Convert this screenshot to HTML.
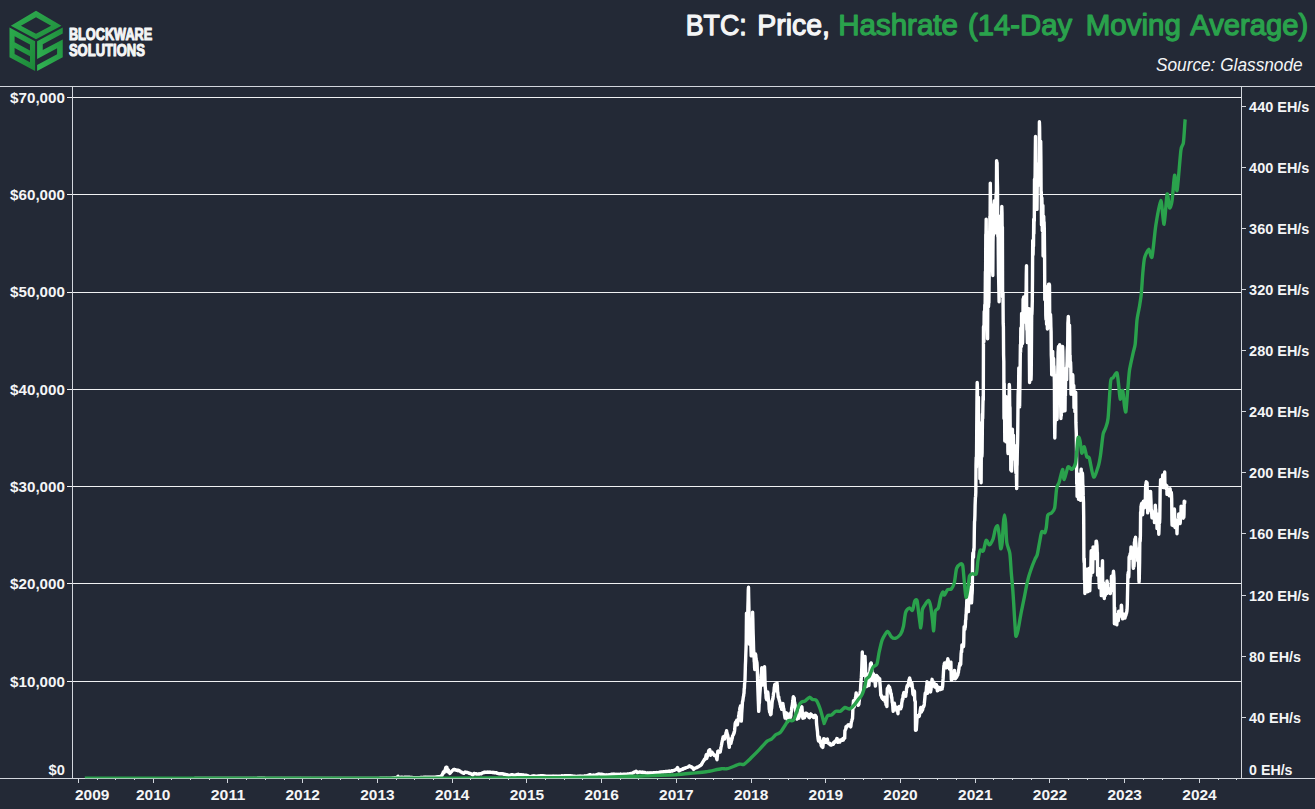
<!DOCTYPE html>
<html><head><meta charset="utf-8"><title>BTC: Price, Hashrate (14-Day Moving Average)</title>
<style>html,body{margin:0;padding:0;background:#232936;}body{width:1315px;height:809px;overflow:hidden;font-family:"Liberation Sans",sans-serif;}</style>
</head><body>
<svg width="1315" height="809" viewBox="0 0 1315 809" style="display:block;font-family:'Liberation Sans',sans-serif">
<rect width="1315" height="809" fill="#232936"/>
<defs><clipPath id="plot"><rect x="73" y="87" width="1168" height="691"/></clipPath><linearGradient id="gTop" x1="0" y1="0" x2="1" y2="1"><stop offset="0" stop-color="#2fae50"/><stop offset="1" stop-color="#1f8c3c"/></linearGradient><linearGradient id="gL" x1="0" y1="0" x2="1" y2="1"><stop offset="0" stop-color="#2cab4d"/><stop offset="1" stop-color="#1c8638"/></linearGradient><linearGradient id="gR" x1="0" y1="1" x2="1" y2="0"><stop offset="0" stop-color="#32b554"/><stop offset="1" stop-color="#1f8f3d"/></linearGradient></defs>
<line x1="67.0" x2="1241.5" y1="681.50" y2="681.50" stroke="#f0f1f3" stroke-width="1" shape-rendering="crispEdges"/>
<line x1="67.0" x2="1241.5" y1="583.50" y2="583.50" stroke="#f0f1f3" stroke-width="1" shape-rendering="crispEdges"/>
<line x1="67.0" x2="1241.5" y1="486.50" y2="486.50" stroke="#f0f1f3" stroke-width="1" shape-rendering="crispEdges"/>
<line x1="67.0" x2="1241.5" y1="389.50" y2="389.50" stroke="#f0f1f3" stroke-width="1" shape-rendering="crispEdges"/>
<line x1="67.0" x2="1241.5" y1="292.50" y2="292.50" stroke="#f0f1f3" stroke-width="1" shape-rendering="crispEdges"/>
<line x1="67.0" x2="1241.5" y1="194.50" y2="194.50" stroke="#f0f1f3" stroke-width="1" shape-rendering="crispEdges"/>
<line x1="67.0" x2="1241.5" y1="97.50" y2="97.50" stroke="#f0f1f3" stroke-width="1" shape-rendering="crispEdges"/>
<line x1="0" x2="1315" y1="86.5" y2="86.5" stroke="#d2d6dd" stroke-width="1" shape-rendering="crispEdges"/>
<line x1="72.5" x2="72.5" y1="86.5" y2="778.5" stroke="#d2d6dd" stroke-width="1" shape-rendering="crispEdges"/>
<line x1="1241.5" x2="1241.5" y1="86.5" y2="778.5" stroke="#d2d6dd" stroke-width="1" shape-rendering="crispEdges"/>
<g clip-path="url(#plot)" fill="none" stroke-linejoin="round" stroke-linecap="butt">
<path d="M194.3,778.5 L194.5,778.5 L194.7,778.5 L194.9,778.5 L195.1,778.5 L195.3,778.5 L195.5,778.5 L195.7,778.5 L195.9,778.5 L196.1,778.5 L196.3,778.5 L196.5,778.5 L196.7,778.5 L196.9,778.5 L197.1,778.5 L197.3,778.5 L197.5,778.5 L197.7,778.5 L198.0,778.5 L198.2,778.5 L198.4,778.5 L198.6,778.5 L198.8,778.5 L199.0,778.5 L199.2,778.5 L199.4,778.5 L199.6,778.5 L199.8,778.5 L200.0,778.5 L200.2,778.5 L200.4,778.5 L200.6,778.5 L200.8,778.5 L201.0,778.5 L201.2,778.5 L201.4,778.5 L201.6,778.5 L201.8,778.5 L202.0,778.5 L202.3,778.5 L202.5,778.5 L202.7,778.5 L202.9,778.5 L203.1,778.5 L203.3,778.5 L203.5,778.5 L203.7,778.5 L203.9,778.5 L204.1,778.5 L204.3,778.5 L204.5,778.5 L204.7,778.5 L204.9,778.5 L205.1,778.5 L205.3,778.5 L205.5,778.5 L205.7,778.5 L205.9,778.5 L206.1,778.5 L206.3,778.5 L206.6,778.5 L206.8,778.5 L207.0,778.5 L207.2,778.5 L207.4,778.5 L207.6,778.5 L207.8,778.5 L208.0,778.5 L208.2,778.5 L208.4,778.5 L208.6,778.5 L208.8,778.5 L209.0,778.5 L209.2,778.5 L209.4,778.5 L209.6,778.5 L209.8,778.5 L210.0,778.5 L210.2,778.5 L210.4,778.5 L210.6,778.5 L210.9,778.5 L211.1,778.5 L211.3,778.5 L211.5,778.5 L211.7,778.5 L211.9,778.5 L212.1,778.5 L212.3,778.5 L212.5,778.5 L212.7,778.5 L212.9,778.5 L213.1,778.5 L213.3,778.5 L213.5,778.5 L213.7,778.5 L213.9,778.5 L214.1,778.5 L214.3,778.5 L214.5,778.5 L214.7,778.5 L214.9,778.5 L215.2,778.5 L215.4,778.5 L215.6,778.5 L215.8,778.5 L216.0,778.5 L216.2,778.5 L216.4,778.5 L216.6,778.5 L216.8,778.5 L217.0,778.5 L217.2,778.5 L217.4,778.5 L217.6,778.5 L217.8,778.5 L218.0,778.5 L218.2,778.5 L218.4,778.5 L218.6,778.5 L218.8,778.5 L219.0,778.5 L219.2,778.5 L219.5,778.5 L219.7,778.5 L219.9,778.5 L220.1,778.5 L220.3,778.5 L220.5,778.5 L220.7,778.5 L220.9,778.5 L221.1,778.5 L221.3,778.5 L221.5,778.5 L221.7,778.5 L221.9,778.5 L222.1,778.5 L222.3,778.5 L222.5,778.5 L222.7,778.5 L222.9,778.5 L223.1,778.5 L223.3,778.5 L223.5,778.5 L223.8,778.5 L224.0,778.5 L224.2,778.5 L224.4,778.5 L224.6,778.5 L224.8,778.5 L225.0,778.5 L225.2,778.5 L225.4,778.5 L225.6,778.5 L225.8,778.5 L226.0,778.5 L226.2,778.5 L226.4,778.5 L226.6,778.5 L226.8,778.5 L227.0,778.5 L227.2,778.5 L227.4,778.5 L227.6,778.5 L227.8,778.5 L228.1,778.5 L228.3,778.5 L228.5,778.5 L228.7,778.5 L228.9,778.5 L229.1,778.5 L229.3,778.5 L229.5,778.5 L229.7,778.5 L229.9,778.5 L230.1,778.5 L230.3,778.5 L230.5,778.5 L230.7,778.5 L230.9,778.5 L231.1,778.5 L231.3,778.5 L231.5,778.5 L231.7,778.5 L231.9,778.5 L232.1,778.5 L232.4,778.5 L232.6,778.5 L232.8,778.5 L233.0,778.5 L233.2,778.5 L233.4,778.5 L233.6,778.5 L233.8,778.5 L234.0,778.5 L234.2,778.5 L234.4,778.5 L234.6,778.5 L234.8,778.5 L235.0,778.5 L235.2,778.5 L235.4,778.5 L235.6,778.5 L235.8,778.5 L236.0,778.5 L236.2,778.5 L236.4,778.5 L236.6,778.5 L236.9,778.5 L237.1,778.5 L237.3,778.5 L237.5,778.5 L237.7,778.5 L237.9,778.5 L238.1,778.5 L238.3,778.5 L238.5,778.5 L238.7,778.5 L238.9,778.5 L239.1,778.5 L239.3,778.5 L239.5,778.5 L239.7,778.5 L239.9,778.5 L240.1,778.5 L240.3,778.5 L240.5,778.5 L240.7,778.5 L240.9,778.5 L241.2,778.5 L241.4,778.5 L241.6,778.5 L241.8,778.5 L242.0,778.5 L242.2,778.5 L242.4,778.5 L242.6,778.5 L242.8,778.5 L243.0,778.5 L243.2,778.5 L243.4,778.5 L243.6,778.5 L243.8,778.5 L244.0,778.5 L244.2,778.5 L244.4,778.5 L244.6,778.5 L244.8,778.5 L245.0,778.5 L245.2,778.5 L245.5,778.5 L245.7,778.5 L245.9,778.5 L246.1,778.5 L246.3,778.5 L246.5,778.5 L246.7,778.5 L246.9,778.5 L247.1,778.5 L247.3,778.5 L247.5,778.5 L247.7,778.5 L247.9,778.5 L248.1,778.5 L248.3,778.5 L248.5,778.5 L248.7,778.5 L248.9,778.5 L249.1,778.5 L249.3,778.5 L249.5,778.5 L249.8,778.5 L250.0,778.5 L250.2,778.5 L250.4,778.5 L250.6,778.5 L250.8,778.5 L251.0,778.5 L251.2,778.5 L251.4,778.5 L251.6,778.5 L251.8,778.5 L252.0,778.5 L252.2,778.5 L252.4,778.5 L252.6,778.5 L252.8,778.5 L253.0,778.5 L253.2,778.5 L253.4,778.5 L253.6,778.4 L253.8,778.4 L254.1,778.4 L254.3,778.4 L254.5,778.4 L254.7,778.4 L254.9,778.4 L255.1,778.4 L255.3,778.4 L255.5,778.4 L255.7,778.4 L255.9,778.4 L256.1,778.4 L256.3,778.4 L256.5,778.4 L256.7,778.4 L256.9,778.4 L257.1,778.4 L257.3,778.4 L257.5,778.3 L257.7,778.3 L257.9,778.3 L258.1,778.3 L258.4,778.3 L258.6,778.3 L258.8,778.3 L259.0,778.3 L259.2,778.3 L259.4,778.3 L259.6,778.3 L259.8,778.3 L260.0,778.2 L260.2,778.2 L260.4,778.2 L260.6,778.2 L260.8,778.2 L261.0,778.2 L261.2,778.3 L261.4,778.3 L261.6,778.3 L261.8,778.3 L262.0,778.3 L262.2,778.3 L262.4,778.3 L262.7,778.3 L262.9,778.3 L263.1,778.3 L263.3,778.3 L263.5,778.3 L263.7,778.3 L263.9,778.3 L264.1,778.3 L264.3,778.3 L264.5,778.3 L264.7,778.3 L264.9,778.4 L265.1,778.4 L265.3,778.4 L265.5,778.4 L265.7,778.4 L265.9,778.4 L266.1,778.4 L266.3,778.4 L266.5,778.4 L266.7,778.4 L267.0,778.4 L267.2,778.4 L267.4,778.4 L267.6,778.4 L267.8,778.4 L268.0,778.4 L268.2,778.4 L268.4,778.4 L268.6,778.4 L268.8,778.4 L269.0,778.4 L269.2,778.4 L269.4,778.4 L269.6,778.4 L269.8,778.4 L270.0,778.4 L270.2,778.4 L270.4,778.4 L270.6,778.4 L270.8,778.4 L271.0,778.4 L271.3,778.4 L271.5,778.4 L271.7,778.4 L271.9,778.4 L272.1,778.4 L272.3,778.4 L272.5,778.4 L272.7,778.4 L272.9,778.4 L273.1,778.4 L273.3,778.4 L273.5,778.4 L273.7,778.4 L273.9,778.4 L274.1,778.4 L274.3,778.4 L274.5,778.4 L274.7,778.4 L274.9,778.4 L275.1,778.4 L275.3,778.4 L275.6,778.4 L275.8,778.4 L276.0,778.4 L276.2,778.4 L276.4,778.4 L276.6,778.4 L276.8,778.4 L277.0,778.4 L277.2,778.4 L277.4,778.4 L277.6,778.4 L277.8,778.4 L278.0,778.4 L278.2,778.4 L278.4,778.4 L278.6,778.4 L278.8,778.4 L279.0,778.4 L279.2,778.4 L279.4,778.4 L279.6,778.4 L279.8,778.4 L280.1,778.4 L280.3,778.4 L280.5,778.4 L280.7,778.4 L280.9,778.4 L281.1,778.4 L281.3,778.5 L281.5,778.5 L281.7,778.5 L281.9,778.5 L282.1,778.5 L282.3,778.5 L282.5,778.5 L282.7,778.5 L282.9,778.5 L283.1,778.5 L283.3,778.5 L283.5,778.5 L283.7,778.5 L283.9,778.5 L284.1,778.5 L284.4,778.5 L284.6,778.5 L284.8,778.5 L285.0,778.5 L285.2,778.5 L285.4,778.5 L285.6,778.5 L285.8,778.5 L286.0,778.5 L286.2,778.5 L286.4,778.5 L286.6,778.5 L286.8,778.5 L287.0,778.5 L287.2,778.5 L287.4,778.5 L287.6,778.5 L287.8,778.5 L288.0,778.5 L288.2,778.5 L288.4,778.5 L288.7,778.5 L288.9,778.5 L289.1,778.5 L289.3,778.5 L289.5,778.5 L289.7,778.5 L289.9,778.5 L290.1,778.5 L290.3,778.5 L290.5,778.5 L290.7,778.5 L290.9,778.5 L291.1,778.5 L291.3,778.5 L291.5,778.5 L291.7,778.5 L291.9,778.5 L292.1,778.5 L292.3,778.5 L292.5,778.5 L292.7,778.5 L293.0,778.5 L293.2,778.5 L293.4,778.5 L293.6,778.5 L293.8,778.5 L294.0,778.5 L294.2,778.5 L294.4,778.5 L294.6,778.5 L294.8,778.5 L295.0,778.5 L295.2,778.5 L295.4,778.5 L295.6,778.5 L295.8,778.5 L296.0,778.5 L296.2,778.5 L296.4,778.5 L296.6,778.5 L296.8,778.5 L297.0,778.5 L297.3,778.5 L297.5,778.5 L297.7,778.5 L297.9,778.5 L298.1,778.5 L298.3,778.5 L298.5,778.5 L298.7,778.5 L298.9,778.5 L299.1,778.5 L299.3,778.5 L299.5,778.5 L299.7,778.5 L299.9,778.5 L300.1,778.5 L300.3,778.5 L300.5,778.5 L300.7,778.4 L300.9,778.4 L301.1,778.4 L301.3,778.4 L301.5,778.4 L301.8,778.4 L302.0,778.4 L302.2,778.4 L302.4,778.4 L302.6,778.4 L302.8,778.4 L303.0,778.4 L303.2,778.4 L303.4,778.4 L303.6,778.4 L303.8,778.4 L304.0,778.4 L304.2,778.4 L304.4,778.4 L304.6,778.4 L304.8,778.4 L305.0,778.4 L305.2,778.4 L305.4,778.4 L305.6,778.4 L305.8,778.4 L306.0,778.4 L306.3,778.4 L306.5,778.4 L306.7,778.4 L306.9,778.4 L307.1,778.4 L307.3,778.4 L307.5,778.4 L307.7,778.4 L307.9,778.4 L308.1,778.4 L308.3,778.4 L308.5,778.4 L308.7,778.4 L308.9,778.4 L309.1,778.4 L309.3,778.4 L309.5,778.4 L309.7,778.4 L309.9,778.4 L310.1,778.4 L310.3,778.5 L310.5,778.5 L310.7,778.5 L310.9,778.5 L311.2,778.5 L311.4,778.5 L311.6,778.5 L311.8,778.5 L312.0,778.5 L312.2,778.5 L312.4,778.5 L312.6,778.5 L312.8,778.5 L313.0,778.5 L313.2,778.5 L313.4,778.5 L313.6,778.5 L313.8,778.5 L314.0,778.5 L314.2,778.5 L314.4,778.5 L314.6,778.5 L314.8,778.5 L315.0,778.5 L315.2,778.5 L315.4,778.5 L315.6,778.5 L315.8,778.5 L316.1,778.5 L316.3,778.5 L316.5,778.5 L316.7,778.5 L316.9,778.5 L317.1,778.5 L317.3,778.5 L317.5,778.5 L317.7,778.5 L317.9,778.5 L318.1,778.5 L318.3,778.5 L318.5,778.5 L318.7,778.5 L318.9,778.5 L319.1,778.5 L319.3,778.5 L319.5,778.5 L319.7,778.5 L319.9,778.5 L320.1,778.5 L320.3,778.5 L320.5,778.5 L320.7,778.5 L321.0,778.5 L321.2,778.5 L321.4,778.5 L321.6,778.5 L321.8,778.5 L322.0,778.5 L322.2,778.5 L322.4,778.5 L322.6,778.5 L322.8,778.5 L323.0,778.5 L323.2,778.5 L323.4,778.5 L323.6,778.5 L323.8,778.5 L324.0,778.5 L324.2,778.5 L324.4,778.5 L324.6,778.5 L324.8,778.5 L325.0,778.5 L325.2,778.5 L325.4,778.5 L325.6,778.5 L325.9,778.5 L326.1,778.5 L326.3,778.5 L326.5,778.5 L326.7,778.5 L326.9,778.5 L327.1,778.5 L327.3,778.5 L327.5,778.5 L327.7,778.5 L327.9,778.5 L328.1,778.5 L328.3,778.5 L328.5,778.5 L328.7,778.5 L328.9,778.5 L329.1,778.5 L329.3,778.5 L329.5,778.5 L329.7,778.5 L329.9,778.5 L330.1,778.5 L330.3,778.5 L330.6,778.5 L330.8,778.5 L331.0,778.5 L331.2,778.5 L331.4,778.5 L331.6,778.5 L331.8,778.4 L332.0,778.4 L332.2,778.4 L332.4,778.4 L332.6,778.4 L332.8,778.4 L333.0,778.4 L333.2,778.4 L333.4,778.4 L333.6,778.4 L333.8,778.4 L334.0,778.4 L334.2,778.4 L334.4,778.4 L334.6,778.4 L334.8,778.4 L335.0,778.4 L335.2,778.4 L335.5,778.4 L335.7,778.4 L335.9,778.4 L336.1,778.4 L336.3,778.4 L336.5,778.4 L336.7,778.4 L336.9,778.4 L337.1,778.4 L337.3,778.4 L337.5,778.4 L337.7,778.4 L337.9,778.4 L338.1,778.4 L338.3,778.4 L338.5,778.4 L338.7,778.4 L338.9,778.4 L339.1,778.4 L339.3,778.4 L339.5,778.4 L339.7,778.4 L339.9,778.4 L340.1,778.4 L340.4,778.4 L340.6,778.4 L340.8,778.4 L341.0,778.4 L341.2,778.4 L341.4,778.4 L341.6,778.4 L341.8,778.4 L342.0,778.4 L342.2,778.4 L342.4,778.4 L342.6,778.4 L342.8,778.4 L343.0,778.4 L343.2,778.4 L343.4,778.4 L343.6,778.4 L343.8,778.4 L344.0,778.4 L344.2,778.4 L344.4,778.4 L344.6,778.4 L344.8,778.4 L345.0,778.4 L345.3,778.4 L345.5,778.4 L345.7,778.4 L345.9,778.4 L346.1,778.4 L346.3,778.4 L346.5,778.4 L346.7,778.4 L346.9,778.4 L347.1,778.4 L347.3,778.4 L347.5,778.4 L347.7,778.4 L347.9,778.4 L348.1,778.4 L348.3,778.4 L348.5,778.4 L348.7,778.4 L348.9,778.4 L349.1,778.4 L349.3,778.4 L349.5,778.4 L349.7,778.4 L349.9,778.4 L350.2,778.4 L350.4,778.4 L350.6,778.4 L350.8,778.4 L351.0,778.4 L351.2,778.4 L351.4,778.4 L351.6,778.4 L351.8,778.4 L352.0,778.4 L352.2,778.4 L352.4,778.4 L352.6,778.4 L352.8,778.4 L353.0,778.4 L353.2,778.4 L353.4,778.4 L353.6,778.4 L353.8,778.4 L354.0,778.4 L354.2,778.4 L354.4,778.4 L354.6,778.4 L354.8,778.4 L355.1,778.4 L355.3,778.4 L355.5,778.4 L355.7,778.4 L355.9,778.4 L356.1,778.4 L356.3,778.4 L356.5,778.4 L356.7,778.4 L356.9,778.4 L357.1,778.4 L357.3,778.4 L357.5,778.4 L357.7,778.4 L357.9,778.4 L358.1,778.4 L358.3,778.4 L358.5,778.4 L358.7,778.4 L358.9,778.4 L359.1,778.4 L359.3,778.4 L359.5,778.4 L359.7,778.4 L360.0,778.4 L360.2,778.4 L360.4,778.4 L360.6,778.4 L360.8,778.4 L361.0,778.4 L361.2,778.4 L361.4,778.4 L361.6,778.4 L361.8,778.4 L362.0,778.4 L362.2,778.4 L362.4,778.4 L362.6,778.4 L362.8,778.4 L363.0,778.4 L363.2,778.4 L363.4,778.4 L363.6,778.4 L363.8,778.4 L364.0,778.4 L364.2,778.4 L364.4,778.4 L364.6,778.4 L364.9,778.4 L365.1,778.4 L365.3,778.4 L365.5,778.4 L365.7,778.4 L365.9,778.4 L366.1,778.4 L366.3,778.4 L366.5,778.4 L366.7,778.4 L366.9,778.4 L367.1,778.4 L367.3,778.4 L367.5,778.4 L367.7,778.4 L367.9,778.4 L368.1,778.4 L368.3,778.4 L368.5,778.4 L368.7,778.4 L368.9,778.4 L369.1,778.4 L369.3,778.4 L369.5,778.4 L369.8,778.4 L370.0,778.4 L370.2,778.4 L370.4,778.4 L370.6,778.4 L370.8,778.4 L371.0,778.4 L371.2,778.4 L371.4,778.4 L371.6,778.4 L371.8,778.4 L372.0,778.4 L372.2,778.4 L372.4,778.4 L372.6,778.4 L372.8,778.4 L373.0,778.4 L373.2,778.4 L373.4,778.4 L373.6,778.4 L373.8,778.4 L374.0,778.4 L374.2,778.4 L374.4,778.4 L374.7,778.4 L374.9,778.4 L375.1,778.4 L375.3,778.4 L375.5,778.4 L375.7,778.4 L375.9,778.4 L376.1,778.4 L376.3,778.4 L376.5,778.4 L376.7,778.4 L376.9,778.4 L377.1,778.4 L377.3,778.4 L377.5,778.4 L377.7,778.4 L377.9,778.4 L378.1,778.4 L378.3,778.4 L378.5,778.4 L378.7,778.4 L378.9,778.4 L379.1,778.4 L379.4,778.4 L379.6,778.4 L379.8,778.3 L380.0,778.3 L380.2,778.3 L380.4,778.3 L380.6,778.3 L380.8,778.3 L381.0,778.3 L381.2,778.3 L381.4,778.3 L381.6,778.3 L381.8,778.3 L382.0,778.3 L382.2,778.3 L382.4,778.3 L382.6,778.3 L382.8,778.3 L383.0,778.3 L383.2,778.3 L383.4,778.3 L383.7,778.3 L383.9,778.3 L384.1,778.3 L384.3,778.3 L384.5,778.3 L384.7,778.3 L384.9,778.3 L385.1,778.3 L385.3,778.3 L385.5,778.3 L385.7,778.3 L385.9,778.3 L386.1,778.3 L386.3,778.3 L386.5,778.3 L386.7,778.3 L386.9,778.2 L387.1,778.2 L387.3,778.2 L387.5,778.2 L387.7,778.2 L388.0,778.2 L388.2,778.2 L388.4,778.2 L388.6,778.2 L388.8,778.2 L389.0,778.2 L389.2,778.2 L389.4,778.2 L389.6,778.2 L389.8,778.2 L390.0,778.2 L390.2,778.2 L390.4,778.1 L390.6,778.1 L390.8,778.1 L391.0,778.1 L391.2,778.1 L391.4,778.1 L391.6,778.1 L391.8,778.1 L392.0,778.0 L392.3,778.0 L392.5,778.0 L392.7,778.0 L392.9,778.0 L393.1,778.0 L393.3,778.0 L393.5,777.9 L393.7,777.9 L393.9,777.9 L394.1,777.9 L394.3,777.8 L394.5,777.8 L394.7,777.8 L394.9,777.8 L395.1,777.7 L395.3,777.7 L395.5,777.7 L395.7,777.6 L395.9,777.6 L396.1,777.6 L396.3,777.5 L396.6,777.4 L396.8,777.2 L397.0,777.1 L397.2,776.9 L397.4,776.8 L397.6,776.6 L397.8,776.4 L398.0,776.3 L398.2,776.7 L398.4,777.1 L398.6,777.5 L398.8,777.6 L399.0,777.7 L399.2,777.8 L399.4,777.8 L399.6,777.8 L399.8,777.7 L400.0,777.6 L400.2,777.5 L400.4,777.5 L400.6,777.4 L400.9,777.3 L401.1,777.2 L401.3,777.1 L401.5,777.2 L401.7,777.2 L401.9,777.2 L402.1,777.3 L402.3,777.3 L402.5,777.4 L402.7,777.4 L402.9,777.4 L403.1,777.4 L403.3,777.4 L403.5,777.4 L403.7,777.4 L403.9,777.4 L404.1,777.4 L404.3,777.3 L404.5,777.3 L404.7,777.3 L404.9,777.3 L405.2,777.4 L405.4,777.3 L405.6,777.3 L405.8,777.3 L406.0,777.3 L406.2,777.3 L406.4,777.3 L406.6,777.3 L406.8,777.3 L407.0,777.3 L407.2,777.3 L407.4,777.3 L407.6,777.3 L407.8,777.3 L408.0,777.3 L408.2,777.3 L408.4,777.3 L408.6,777.3 L408.8,777.3 L409.0,777.3 L409.2,777.3 L409.4,777.3 L409.7,777.3 L409.9,777.3 L410.1,777.4 L410.3,777.4 L410.5,777.4 L410.7,777.4 L410.9,777.4 L411.1,777.4 L411.3,777.5 L411.5,777.5 L411.7,777.5 L411.9,777.5 L412.1,777.5 L412.3,777.5 L412.5,777.6 L412.7,777.6 L412.9,777.6 L413.1,777.6 L413.3,777.7 L413.5,777.7 L413.7,777.6 L414.0,777.7 L414.2,777.7 L414.4,777.7 L414.6,777.7 L414.8,777.8 L415.0,777.8 L415.2,777.8 L415.4,777.8 L415.6,777.8 L415.8,777.8 L416.0,777.8 L416.2,777.8 L416.4,777.8 L416.6,777.8 L416.8,777.8 L417.0,777.8 L417.2,777.8 L417.4,777.7 L417.6,777.7 L417.8,777.7 L418.0,777.7 L418.3,777.7 L418.5,777.7 L418.7,777.7 L418.9,777.6 L419.1,777.6 L419.3,777.6 L419.5,777.6 L419.7,777.6 L419.9,777.6 L420.1,777.6 L420.3,777.5 L420.5,777.5 L420.7,777.5 L420.9,777.5 L421.1,777.5 L421.3,777.5 L421.5,777.5 L421.7,777.4 L421.9,777.4 L422.1,777.4 L422.3,777.4 L422.6,777.4 L422.8,777.4 L423.0,777.4 L423.2,777.4 L423.4,777.4 L423.6,777.3 L423.8,777.3 L424.0,777.3 L424.2,777.3 L424.4,777.3 L424.6,777.3 L424.8,777.3 L425.0,777.3 L425.2,777.3 L425.4,777.3 L425.6,777.3 L425.8,777.2 L426.0,777.2 L426.2,777.2 L426.4,777.2 L426.6,777.2 L426.9,777.2 L427.1,777.2 L427.3,777.2 L427.5,777.1 L427.7,777.1 L427.9,777.1 L428.1,777.1 L428.3,777.1 L428.5,777.1 L428.7,777.1 L428.9,777.2 L429.1,777.2 L429.3,777.1 L429.5,777.2 L429.7,777.2 L429.9,777.2 L430.1,777.2 L430.3,777.2 L430.5,777.2 L430.7,777.2 L430.9,777.2 L431.2,777.2 L431.4,777.2 L431.6,777.2 L431.8,777.2 L432.0,777.2 L432.2,777.2 L432.4,777.2 L432.6,777.2 L432.8,777.2 L433.0,777.2 L433.2,777.2 L433.4,777.2 L433.6,777.2 L433.8,777.2 L434.0,777.2 L434.2,777.2 L434.4,777.2 L434.6,777.2 L434.8,777.1 L435.0,777.1 L435.2,777.1 L435.5,777.1 L435.7,777.1 L435.9,777.0 L436.1,777.0 L436.3,777.0 L436.5,777.0 L436.7,776.9 L436.9,776.9 L437.1,776.9 L437.3,776.9 L437.5,776.9 L437.7,776.8 L437.9,776.8 L438.1,776.8 L438.3,776.8 L438.5,776.7 L438.7,776.7 L438.9,776.7 L439.1,776.6 L439.3,776.6 L439.5,776.6 L439.8,776.6 L440.0,776.6 L440.2,776.5 L440.4,776.4 L440.6,776.2 L440.8,776.1 L441.0,776.0 L441.2,775.9 L441.4,775.7 L441.6,775.6 L441.8,775.4 L442.0,775.3 L442.2,774.8 L442.4,774.3 L442.6,773.8 L442.8,773.4 L443.0,773.0 L443.2,772.6 L443.4,772.1 L443.6,771.7 L443.8,772.1 L444.1,772.7 L444.3,772.1 L444.5,771.5 L444.7,770.9 L444.9,770.4 L445.1,769.8 L445.3,769.4 L445.5,768.7 L445.7,768.2 L445.9,767.5 L446.1,767.3 L446.3,767.4 L446.5,767.5 L446.7,767.2 L446.9,767.3 L447.1,768.7 L447.3,770.4 L447.5,771.7 L447.7,770.9 L447.9,770.3 L448.1,769.7 L448.4,770.1 L448.6,770.8 L448.8,771.1 L449.0,771.6 L449.2,772.0 L449.4,772.5 L449.6,772.9 L449.8,773.4 L450.0,773.3 L450.2,773.1 L450.4,772.9 L450.6,772.6 L450.8,772.4 L451.0,772.1 L451.2,771.9 L451.4,771.7 L451.6,771.5 L451.8,771.3 L452.0,771.1 L452.2,770.7 L452.4,770.5 L452.7,770.4 L452.9,770.2 L453.1,769.9 L453.3,769.8 L453.5,769.5 L453.7,769.4 L453.9,769.4 L454.1,769.5 L454.3,769.5 L454.5,769.7 L454.7,769.5 L454.9,769.7 L455.1,769.9 L455.3,769.7 L455.5,769.9 L455.7,769.8 L455.9,770.0 L456.1,770.0 L456.3,770.1 L456.5,770.1 L456.7,770.2 L456.9,770.2 L457.2,770.3 L457.4,770.2 L457.6,770.3 L457.8,770.3 L458.0,770.6 L458.2,770.3 L458.4,770.4 L458.6,770.6 L458.8,770.5 L459.0,770.5 L459.2,770.6 L459.4,770.7 L459.6,771.1 L459.8,771.0 L460.0,771.3 L460.2,771.2 L460.4,771.6 L460.6,771.7 L460.8,771.9 L461.0,772.0 L461.2,772.1 L461.5,772.1 L461.7,772.2 L461.9,772.3 L462.1,772.4 L462.3,772.6 L462.5,772.8 L462.7,772.8 L462.9,772.9 L463.1,773.0 L463.3,773.0 L463.5,773.1 L463.7,773.3 L463.9,773.3 L464.1,773.1 L464.3,772.9 L464.5,772.6 L464.7,772.4 L464.9,772.2 L465.1,772.0 L465.3,772.1 L465.5,772.2 L465.8,772.1 L466.0,772.2 L466.2,772.2 L466.4,772.4 L466.6,772.4 L466.8,772.4 L467.0,772.5 L467.2,772.5 L467.4,772.5 L467.6,772.5 L467.8,772.6 L468.0,772.7 L468.2,772.8 L468.4,772.8 L468.6,772.9 L468.8,772.9 L469.0,773.0 L469.2,773.2 L469.4,773.1 L469.6,773.2 L469.8,773.3 L470.1,773.5 L470.3,773.5 L470.5,773.5 L470.7,773.7 L470.9,773.8 L471.1,773.8 L471.3,773.9 L471.5,774.1 L471.7,774.2 L471.9,774.3 L472.1,774.5 L472.3,774.6 L472.5,774.7 L472.7,774.8 L472.9,774.9 L473.1,774.6 L473.3,774.4 L473.5,773.9 L473.7,773.7 L473.9,773.4 L474.1,773.5 L474.4,773.5 L474.6,773.5 L474.8,773.6 L475.0,773.7 L475.2,773.8 L475.4,773.7 L475.6,773.7 L475.8,773.8 L476.0,773.8 L476.2,773.9 L476.4,773.9 L476.6,774.1 L476.8,774.0 L477.0,774.1 L477.2,774.1 L477.4,774.1 L477.6,774.1 L477.8,774.1 L478.0,774.0 L478.2,774.0 L478.4,774.1 L478.7,773.9 L478.9,773.9 L479.1,774.0 L479.3,774.0 L479.5,773.9 L479.7,773.9 L479.9,773.8 L480.1,773.9 L480.3,773.9 L480.5,773.8 L480.7,773.8 L480.9,773.7 L481.1,773.7 L481.3,773.7 L481.5,773.5 L481.7,773.4 L481.9,773.3 L482.1,773.1 L482.3,773.0 L482.5,772.9 L482.7,772.8 L483.0,772.8 L483.2,772.6 L483.4,772.5 L483.6,772.4 L483.8,772.4 L484.0,772.3 L484.2,772.4 L484.4,772.3 L484.6,772.3 L484.8,772.4 L485.0,772.2 L485.2,772.1 L485.4,772.2 L485.6,772.2 L485.8,772.2 L486.0,772.3 L486.2,772.2 L486.4,772.1 L486.6,772.2 L486.8,772.1 L487.0,772.1 L487.3,772.1 L487.5,772.3 L487.7,772.1 L487.9,772.2 L488.1,772.3 L488.3,772.3 L488.5,772.3 L488.7,772.3 L488.9,772.2 L489.1,772.3 L489.3,772.3 L489.5,772.2 L489.7,772.3 L489.9,772.3 L490.1,772.3 L490.3,772.4 L490.5,772.3 L490.7,772.2 L490.9,772.3 L491.1,772.4 L491.3,772.4 L491.6,772.4 L491.8,772.4 L492.0,772.4 L492.2,772.5 L492.4,772.6 L492.6,772.4 L492.8,772.5 L493.0,772.5 L493.2,772.5 L493.4,772.4 L493.6,772.5 L493.8,772.6 L494.0,772.6 L494.2,772.5 L494.4,772.7 L494.6,772.6 L494.8,772.6 L495.0,772.6 L495.2,772.7 L495.4,772.8 L495.6,772.8 L495.9,772.7 L496.1,772.8 L496.3,772.8 L496.5,772.8 L496.7,773.0 L496.9,773.0 L497.1,773.1 L497.3,773.3 L497.5,773.3 L497.7,773.3 L497.9,773.4 L498.1,773.5 L498.3,773.5 L498.5,773.6 L498.7,773.6 L498.9,773.7 L499.1,773.8 L499.3,773.8 L499.5,773.9 L499.7,773.9 L499.9,773.9 L500.1,773.8 L500.4,773.9 L500.6,773.9 L500.8,773.8 L501.0,773.9 L501.2,773.8 L501.4,773.9 L501.6,773.8 L501.8,773.9 L502.0,773.9 L502.2,773.8 L502.4,773.8 L502.6,773.9 L502.8,773.9 L503.0,773.9 L503.2,773.9 L503.4,774.1 L503.6,774.0 L503.8,774.0 L504.0,774.2 L504.2,774.2 L504.4,774.1 L504.7,774.3 L504.9,774.3 L505.1,774.4 L505.3,774.4 L505.5,774.4 L505.7,774.5 L505.9,774.5 L506.1,774.6 L506.3,774.6 L506.5,774.7 L506.7,774.7 L506.9,774.8 L507.1,774.8 L507.3,774.8 L507.5,775.0 L507.7,775.0 L507.9,775.1 L508.1,775.1 L508.3,775.1 L508.5,775.2 L508.7,775.2 L509.0,775.2 L509.2,775.4 L509.4,775.4 L509.6,775.3 L509.8,775.3 L510.0,775.1 L510.2,775.1 L510.4,775.0 L510.6,774.9 L510.8,774.9 L511.0,774.8 L511.2,774.7 L511.4,774.7 L511.6,774.7 L511.8,774.7 L512.0,774.8 L512.2,774.8 L512.4,774.9 L512.6,774.9 L512.8,774.8 L513.0,775.0 L513.3,775.0 L513.5,775.0 L513.7,775.1 L513.9,775.2 L514.1,775.2 L514.3,775.2 L514.5,775.2 L514.7,775.3 L514.9,775.3 L515.1,775.2 L515.3,775.2 L515.5,775.0 L515.7,775.0 L515.9,774.9 L516.1,774.9 L516.3,774.8 L516.5,774.6 L516.7,774.6 L516.9,774.5 L517.1,774.4 L517.3,774.4 L517.6,774.5 L517.8,774.5 L518.0,774.5 L518.2,774.6 L518.4,774.5 L518.6,774.6 L518.8,774.5 L519.0,774.7 L519.2,774.6 L519.4,774.6 L519.6,774.6 L519.8,774.7 L520.0,774.7 L520.2,774.7 L520.4,774.8 L520.6,774.7 L520.8,774.8 L521.0,774.8 L521.2,774.8 L521.4,774.8 L521.6,774.9 L521.9,774.9 L522.1,774.9 L522.3,775.0 L522.5,775.0 L522.7,774.9 L522.9,775.0 L523.1,774.9 L523.3,775.1 L523.5,775.1 L523.7,775.0 L523.9,775.1 L524.1,775.1 L524.3,775.1 L524.5,775.1 L524.7,775.1 L524.9,775.1 L525.1,775.2 L525.3,775.2 L525.5,775.3 L525.7,775.3 L525.9,775.3 L526.2,775.3 L526.4,775.3 L526.6,775.4 L526.8,775.4 L527.0,775.4 L527.2,775.4 L527.4,775.5 L527.6,775.6 L527.8,775.7 L528.0,775.8 L528.2,775.9 L528.4,776.0 L528.6,776.1 L528.8,776.2 L529.0,776.3 L529.2,776.4 L529.4,776.5 L529.6,776.6 L529.8,776.7 L530.0,776.7 L530.2,776.7 L530.5,776.6 L530.7,776.5 L530.9,776.5 L531.1,776.4 L531.3,776.3 L531.5,776.2 L531.7,776.1 L531.9,776.1 L532.1,776.1 L532.3,775.9 L532.5,775.9 L532.7,775.9 L532.9,775.9 L533.1,775.9 L533.3,775.9 L533.5,776.0 L533.7,775.9 L533.9,776.0 L534.1,776.0 L534.3,776.0 L534.5,776.1 L534.8,776.1 L535.0,776.0 L535.2,776.1 L535.4,776.1 L535.6,776.1 L535.8,776.2 L536.0,776.2 L536.2,776.2 L536.4,776.2 L536.6,776.2 L536.8,776.2 L537.0,776.2 L537.2,776.1 L537.4,776.1 L537.6,776.1 L537.8,776.0 L538.0,776.0 L538.2,776.0 L538.4,776.0 L538.6,776.0 L538.8,776.0 L539.1,776.0 L539.3,775.9 L539.5,775.9 L539.7,775.9 L539.9,775.9 L540.1,775.8 L540.3,775.8 L540.5,775.8 L540.7,775.8 L540.9,775.8 L541.1,775.7 L541.3,775.7 L541.5,775.7 L541.7,775.7 L541.9,775.7 L542.1,775.8 L542.3,775.7 L542.5,775.8 L542.7,775.8 L542.9,775.8 L543.1,775.9 L543.3,775.8 L543.6,775.9 L543.8,775.9 L544.0,775.9 L544.2,776.0 L544.4,776.0 L544.6,776.0 L544.8,776.1 L545.0,776.0 L545.2,776.0 L545.4,776.1 L545.6,776.1 L545.8,776.1 L546.0,776.1 L546.2,776.1 L546.4,776.1 L546.6,776.2 L546.8,776.1 L547.0,776.1 L547.2,776.2 L547.4,776.2 L547.6,776.2 L547.9,776.1 L548.1,776.1 L548.3,776.2 L548.5,776.2 L548.7,776.2 L548.9,776.1 L549.1,776.1 L549.3,776.2 L549.5,776.2 L549.7,776.2 L549.9,776.2 L550.1,776.2 L550.3,776.2 L550.5,776.2 L550.7,776.2 L550.9,776.2 L551.1,776.2 L551.3,776.2 L551.5,776.2 L551.7,776.2 L551.9,776.2 L552.2,776.2 L552.4,776.2 L552.6,776.2 L552.8,776.3 L553.0,776.2 L553.2,776.2 L553.4,776.2 L553.6,776.3 L553.8,776.3 L554.0,776.3 L554.2,776.2 L554.4,776.3 L554.6,776.3 L554.8,776.3 L555.0,776.3 L555.2,776.3 L555.4,776.3 L555.6,776.3 L555.8,776.3 L556.0,776.2 L556.2,776.3 L556.5,776.3 L556.7,776.3 L556.9,776.3 L557.1,776.3 L557.3,776.3 L557.5,776.3 L557.7,776.3 L557.9,776.3 L558.1,776.3 L558.3,776.3 L558.5,776.3 L558.7,776.3 L558.9,776.3 L559.1,776.3 L559.3,776.3 L559.5,776.2 L559.7,776.2 L559.9,776.2 L560.1,776.2 L560.3,776.1 L560.5,776.1 L560.8,776.1 L561.0,776.1 L561.2,776.0 L561.4,776.1 L561.6,776.0 L561.8,776.1 L562.0,776.0 L562.2,776.0 L562.4,776.0 L562.6,775.9 L562.8,776.0 L563.0,775.9 L563.2,775.9 L563.4,775.9 L563.6,775.9 L563.8,775.9 L564.0,775.9 L564.2,775.8 L564.4,775.8 L564.6,775.7 L564.8,775.8 L565.1,775.8 L565.3,775.8 L565.5,775.8 L565.7,775.7 L565.9,775.7 L566.1,775.7 L566.3,775.7 L566.5,775.7 L566.7,775.7 L566.9,775.7 L567.1,775.8 L567.3,775.7 L567.5,775.7 L567.7,775.7 L567.9,775.7 L568.1,775.7 L568.3,775.7 L568.5,775.8 L568.7,775.8 L568.9,775.8 L569.1,775.7 L569.4,775.7 L569.6,775.8 L569.8,775.8 L570.0,775.8 L570.2,775.7 L570.4,775.7 L570.6,775.8 L570.8,775.8 L571.0,775.8 L571.2,775.9 L571.4,775.9 L571.6,775.9 L571.8,775.9 L572.0,776.0 L572.2,776.0 L572.4,775.9 L572.6,776.1 L572.8,776.1 L573.0,776.1 L573.2,776.1 L573.4,776.1 L573.7,776.1 L573.9,776.3 L574.1,776.2 L574.3,776.3 L574.5,776.3 L574.7,776.4 L574.9,776.4 L575.1,776.4 L575.3,776.4 L575.5,776.5 L575.7,776.4 L575.9,776.4 L576.1,776.5 L576.3,776.4 L576.5,776.4 L576.7,776.4 L576.9,776.4 L577.1,776.4 L577.3,776.4 L577.5,776.4 L577.7,776.3 L578.0,776.4 L578.2,776.3 L578.4,776.3 L578.6,776.3 L578.8,776.3 L579.0,776.3 L579.2,776.3 L579.4,776.3 L579.6,776.2 L579.8,776.3 L580.0,776.3 L580.2,776.3 L580.4,776.2 L580.6,776.2 L580.8,776.3 L581.0,776.2 L581.2,776.2 L581.4,776.2 L581.6,776.2 L581.8,776.2 L582.0,776.2 L582.3,776.2 L582.5,776.2 L582.7,776.1 L582.9,776.2 L583.1,776.2 L583.3,776.1 L583.5,776.1 L583.7,776.1 L583.9,776.1 L584.1,776.1 L584.3,776.1 L584.5,776.0 L584.7,776.1 L584.9,776.0 L585.1,776.1 L585.3,776.0 L585.5,776.0 L585.7,776.0 L585.9,776.0 L586.1,776.0 L586.3,775.9 L586.5,775.9 L586.8,775.8 L587.0,775.7 L587.2,775.6 L587.4,775.5 L587.6,775.5 L587.8,775.5 L588.0,775.4 L588.2,775.3 L588.4,775.2 L588.6,775.2 L588.8,775.1 L589.0,775.1 L589.2,774.9 L589.4,774.8 L589.6,774.8 L589.8,774.7 L590.0,774.7 L590.2,774.6 L590.4,774.7 L590.6,774.9 L590.8,775.0 L591.1,775.1 L591.3,775.2 L591.5,775.4 L591.7,775.5 L591.9,775.5 L592.1,775.5 L592.3,775.4 L592.5,775.4 L592.7,775.3 L592.9,775.4 L593.1,775.3 L593.3,775.3 L593.5,775.2 L593.7,775.3 L593.9,775.2 L594.1,775.2 L594.3,775.1 L594.5,775.1 L594.7,775.1 L594.9,775.1 L595.1,775.1 L595.4,775.0 L595.6,775.0 L595.8,775.0 L596.0,774.9 L596.2,774.9 L596.4,774.8 L596.6,774.8 L596.8,774.7 L597.0,774.5 L597.2,774.5 L597.4,774.4 L597.6,774.3 L597.8,774.3 L598.0,774.2 L598.2,774.1 L598.4,774.1 L598.6,774.0 L598.8,774.0 L599.0,774.0 L599.2,774.0 L599.4,774.1 L599.7,774.1 L599.9,774.1 L600.1,774.1 L600.3,774.2 L600.5,774.1 L600.7,774.2 L600.9,774.2 L601.1,774.2 L601.3,774.3 L601.5,774.3 L601.7,774.3 L601.9,774.3 L602.1,774.3 L602.3,774.4 L602.5,774.5 L602.7,774.5 L602.9,774.5 L603.1,774.5 L603.3,774.6 L603.5,774.6 L603.7,774.8 L603.9,774.8 L604.2,774.8 L604.4,774.9 L604.6,774.9 L604.8,774.9 L605.0,775.0 L605.2,775.0 L605.4,775.0 L605.6,775.0 L605.8,775.0 L606.0,775.0 L606.2,775.0 L606.4,775.0 L606.6,774.9 L606.8,775.0 L607.0,774.9 L607.2,774.9 L607.4,774.9 L607.6,774.9 L607.8,774.9 L608.0,774.9 L608.2,774.9 L608.4,774.9 L608.6,774.9 L608.8,774.8 L609.1,774.8 L609.3,774.8 L609.5,774.7 L609.7,774.7 L609.9,774.7 L610.1,774.6 L610.3,774.6 L610.5,774.5 L610.7,774.5 L610.9,774.5 L611.1,774.4 L611.3,774.4 L611.5,774.3 L611.7,774.3 L611.9,774.3 L612.1,774.3 L612.3,774.2 L612.5,774.2 L612.7,774.2 L612.9,774.2 L613.1,774.3 L613.3,774.3 L613.5,774.2 L613.7,774.4 L614.0,774.3 L614.2,774.3 L614.4,774.3 L614.6,774.4 L614.8,774.4 L615.0,774.3 L615.2,774.4 L615.4,774.4 L615.6,774.4 L615.8,774.4 L616.0,774.5 L616.2,774.4 L616.4,774.4 L616.6,774.5 L616.8,774.4 L617.0,774.5 L617.2,774.5 L617.4,774.4 L617.6,774.4 L617.8,774.4 L618.0,774.5 L618.2,774.4 L618.4,774.4 L618.6,774.5 L618.9,774.5 L619.1,774.4 L619.3,774.4 L619.5,774.5 L619.7,774.4 L619.9,774.4 L620.1,774.4 L620.3,774.3 L620.5,774.4 L620.7,774.3 L620.9,774.4 L621.1,774.3 L621.3,774.5 L621.5,774.4 L621.7,774.4 L621.9,774.4 L622.1,774.4 L622.3,774.4 L622.5,774.4 L622.7,774.4 L622.9,774.3 L623.1,774.3 L623.3,774.3 L623.5,774.3 L623.8,774.3 L624.0,774.3 L624.2,774.3 L624.4,774.3 L624.6,774.3 L624.8,774.2 L625.0,774.2 L625.2,774.2 L625.4,774.1 L625.6,774.2 L625.8,774.2 L626.0,774.1 L626.2,774.2 L626.4,774.2 L626.6,774.1 L626.8,774.1 L627.0,774.1 L627.2,774.1 L627.4,774.0 L627.6,774.0 L627.8,773.9 L628.0,773.9 L628.2,773.9 L628.4,773.9 L628.7,773.9 L628.9,773.9 L629.1,773.8 L629.3,773.7 L629.5,773.7 L629.7,773.8 L629.9,773.7 L630.1,773.7 L630.3,773.7 L630.5,773.6 L630.7,773.5 L630.9,773.5 L631.1,773.5 L631.3,773.5 L631.5,773.4 L631.7,773.4 L631.9,773.4 L632.1,773.4 L632.3,773.3 L632.5,773.2 L632.7,773.1 L632.9,773.0 L633.1,772.9 L633.3,772.6 L633.6,772.7 L633.8,772.4 L634.0,772.4 L634.2,772.2 L634.4,772.1 L634.6,772.1 L634.8,771.8 L635.0,771.8 L635.2,771.8 L635.4,771.5 L635.6,771.4 L635.8,771.3 L636.0,771.1 L636.2,771.1 L636.4,771.4 L636.6,771.6 L636.8,771.8 L637.0,772.2 L637.2,772.3 L637.4,772.7 L637.6,772.6 L637.8,772.6 L638.0,772.4 L638.2,772.4 L638.5,772.3 L638.7,772.3 L638.9,772.1 L639.1,772.1 L639.3,771.9 L639.5,771.9 L639.7,772.0 L639.9,772.0 L640.1,772.0 L640.3,772.0 L640.5,772.1 L640.7,772.1 L640.9,772.2 L641.1,772.3 L641.3,772.2 L641.5,772.2 L641.7,772.2 L641.9,772.2 L642.1,772.4 L642.3,772.3 L642.5,772.3 L642.7,772.4 L642.9,772.3 L643.2,772.4 L643.4,772.4 L643.6,772.5 L643.8,772.4 L644.0,772.5 L644.2,772.4 L644.4,772.5 L644.6,772.6 L644.8,772.6 L645.0,772.5 L645.2,772.6 L645.4,772.6 L645.6,772.6 L645.8,773.1 L646.0,773.1 L646.2,773.1 L646.4,773.1 L646.6,773.1 L646.8,773.1 L647.0,773.1 L647.2,773.0 L647.4,773.2 L647.6,773.0 L647.8,773.1 L648.1,773.2 L648.3,773.0 L648.5,773.0 L648.7,773.0 L648.9,773.1 L649.1,773.0 L649.3,772.9 L649.5,773.1 L649.7,773.2 L649.9,773.0 L650.1,773.1 L650.3,773.0 L650.5,773.0 L650.7,773.0 L650.9,773.0 L651.1,772.9 L651.3,773.0 L651.5,772.9 L651.7,772.9 L651.9,772.9 L652.1,772.9 L652.3,772.9 L652.5,772.9 L652.7,772.9 L653.0,772.8 L653.2,772.9 L653.4,772.9 L653.6,772.7 L653.8,772.8 L654.0,772.9 L654.2,772.7 L654.4,772.7 L654.6,772.8 L654.8,772.9 L655.0,772.8 L655.2,772.7 L655.4,772.7 L655.6,772.6 L655.8,772.7 L656.0,772.7 L656.2,772.7 L656.4,772.6 L656.6,772.7 L656.8,772.6 L657.0,772.8 L657.2,772.6 L657.4,772.6 L657.6,772.6 L657.9,772.6 L658.1,772.6 L658.3,772.6 L658.5,772.5 L658.7,772.5 L658.9,772.4 L659.1,772.5 L659.3,772.5 L659.5,772.5 L659.7,772.2 L659.9,772.3 L660.1,772.3 L660.3,772.4 L660.5,772.1 L660.7,772.2 L660.9,772.1 L661.1,772.1 L661.3,772.1 L661.5,772.0 L661.7,772.1 L661.9,772.0 L662.1,772.0 L662.3,772.0 L662.5,771.9 L662.8,771.9 L663.0,771.8 L663.2,772.0 L663.4,771.8 L663.6,771.8 L663.8,771.8 L664.0,771.8 L664.2,771.7 L664.4,771.7 L664.6,771.7 L664.8,771.7 L665.0,771.6 L665.2,771.6 L665.4,771.8 L665.6,771.6 L665.8,771.7 L666.0,771.6 L666.2,771.5 L666.4,771.5 L666.6,771.5 L666.8,771.5 L667.0,771.5 L667.2,771.5 L667.4,771.5 L667.7,771.4 L667.9,771.3 L668.1,771.2 L668.3,771.3 L668.5,771.4 L668.7,771.4 L668.9,771.4 L669.1,771.3 L669.3,771.1 L669.5,771.2 L669.7,771.4 L669.9,771.3 L670.1,771.3 L670.3,771.2 L670.5,771.2 L670.7,771.1 L670.9,771.0 L671.1,770.9 L671.3,771.0 L671.5,771.0 L671.7,770.7 L671.9,770.8 L672.1,770.8 L672.3,770.9 L672.6,770.8 L672.8,770.9 L673.0,770.6 L673.2,770.5 L673.4,770.4 L673.6,770.4 L673.8,770.4 L674.0,770.4 L674.2,770.2 L674.4,770.3 L674.6,770.2 L674.8,770.1 L675.0,770.0 L675.2,769.9 L675.4,769.8 L675.6,769.6 L675.8,769.5 L676.0,769.5 L676.2,769.4 L676.4,769.2 L676.6,769.1 L676.8,768.8 L677.0,768.3 L677.2,767.9 L677.5,767.5 L677.7,768.0 L677.9,768.3 L678.1,768.8 L678.3,769.5 L678.5,769.9 L678.7,770.4 L678.9,770.9 L679.1,770.7 L679.3,770.7 L679.5,770.5 L679.7,770.5 L679.9,770.4 L680.1,770.1 L680.3,769.9 L680.5,769.9 L680.7,769.8 L680.9,769.7 L681.1,769.6 L681.3,769.6 L681.5,769.7 L681.8,769.3 L682.0,769.3 L682.2,769.3 L682.4,769.3 L682.6,769.0 L682.8,769.2 L683.0,768.8 L683.2,768.9 L683.4,768.8 L683.6,768.6 L683.8,768.7 L684.0,768.6 L684.2,768.5 L684.4,768.4 L684.6,768.3 L684.8,768.3 L685.0,768.0 L685.2,768.2 L685.4,768.1 L685.6,767.8 L685.8,767.9 L686.1,767.8 L686.3,767.6 L686.5,767.6 L686.7,767.6 L686.9,767.4 L687.1,767.4 L687.3,767.2 L687.5,767.3 L687.7,767.1 L687.9,766.9 L688.1,766.9 L688.3,766.8 L688.5,766.6 L688.7,766.4 L688.9,766.2 L689.1,766.0 L689.3,766.0 L689.5,766.2 L689.7,766.1 L689.9,766.3 L690.1,766.4 L690.4,766.8 L690.6,766.7 L690.8,766.9 L691.0,767.0 L691.2,766.9 L691.4,767.1 L691.6,767.0 L691.8,767.0 L692.0,767.1 L692.2,767.3 L692.4,767.7 L692.6,767.8 L692.8,768.1 L693.0,768.6 L693.2,768.7 L693.4,769.2 L693.6,769.4 L693.8,769.1 L694.0,769.0 L694.2,768.7 L694.4,768.6 L694.7,768.6 L694.9,768.4 L695.1,768.3 L695.3,768.0 L695.5,767.9 L695.7,767.9 L695.9,767.9 L696.1,767.7 L696.3,767.7 L696.5,767.6 L696.7,767.6 L696.9,767.2 L697.1,767.2 L697.3,767.3 L697.5,767.4 L697.7,767.1 L697.9,767.1 L698.1,767.0 L698.3,766.9 L698.5,766.7 L698.7,766.6 L699.0,766.3 L699.2,766.2 L699.4,766.1 L699.6,766.1 L699.8,765.9 L700.0,765.6 L700.2,765.7 L700.4,765.4 L700.6,765.4 L700.8,765.3 L701.0,764.9 L701.2,764.8 L701.4,764.7 L701.6,764.3 L701.8,763.8 L702.0,763.8 L702.2,763.2 L702.4,762.8 L702.6,762.3 L702.8,762.3 L703.0,761.7 L703.3,761.4 L703.5,761.1 L703.7,760.6 L703.9,760.3 L704.1,760.1 L704.3,759.5 L704.5,759.7 L704.7,759.5 L704.9,759.2 L705.1,759.0 L705.3,758.6 L705.5,757.8 L705.7,757.5 L705.9,756.2 L706.1,755.4 L706.3,754.7 L706.5,756.3 L706.7,758.6 L706.9,757.9 L707.1,756.8 L707.3,756.7 L707.6,755.9 L707.8,755.2 L708.0,754.7 L708.2,753.5 L708.4,752.6 L708.6,751.1 L708.8,750.6 L709.0,750.3 L709.2,750.6 L709.4,749.9 L709.6,749.8 L709.8,749.8 L710.0,751.2 L710.2,752.5 L710.4,753.9 L710.6,755.2 L710.8,754.6 L711.0,754.4 L711.2,753.3 L711.4,752.4 L711.6,752.0 L711.9,752.1 L712.1,752.6 L712.3,753.0 L712.5,753.1 L712.7,753.1 L712.9,753.5 L713.1,754.0 L713.3,754.0 L713.5,754.4 L713.7,754.5 L713.9,754.9 L714.1,755.0 L714.3,755.4 L714.5,755.1 L714.7,755.0 L714.9,755.6 L715.1,755.4 L715.3,755.3 L715.5,755.6 L715.7,755.6 L715.9,756.4 L716.2,756.5 L716.4,757.5 L716.6,758.1 L716.8,759.2 L717.0,759.7 L717.2,757.3 L717.4,755.9 L717.6,753.5 L717.8,751.3 L718.0,751.2 L718.2,751.1 L718.4,751.7 L718.6,751.7 L718.8,751.5 L719.0,752.3 L719.2,751.5 L719.4,751.6 L719.6,752.0 L719.8,751.8 L720.0,751.9 L720.2,752.0 L720.4,750.7 L720.7,749.3 L720.9,747.7 L721.1,746.9 L721.3,746.0 L721.5,744.8 L721.7,744.1 L721.9,742.5 L722.1,742.1 L722.3,740.7 L722.5,739.9 L722.7,738.9 L722.9,738.3 L723.1,737.0 L723.3,737.3 L723.5,736.7 L723.7,736.6 L723.9,737.3 L724.1,737.5 L724.3,738.7 L724.5,739.1 L724.7,738.0 L725.0,737.2 L725.2,736.9 L725.4,735.7 L725.6,735.0 L725.8,734.2 L726.0,732.7 L726.2,732.8 L726.4,732.2 L726.6,730.8 L726.8,732.4 L727.0,732.8 L727.2,733.9 L727.4,734.4 L727.6,735.1 L727.8,735.7 L728.0,737.2 L728.2,738.8 L728.4,740.4 L728.6,742.6 L728.8,743.7 L729.0,745.3 L729.3,747.4 L729.5,744.9 L729.7,744.0 L729.9,740.8 L730.1,739.1 L730.3,739.6 L730.5,740.9 L730.7,742.9 L730.9,743.5 L731.1,742.7 L731.3,741.6 L731.5,740.7 L731.7,740.4 L731.9,739.6 L732.1,737.9 L732.3,738.0 L732.5,736.2 L732.7,735.8 L732.9,735.3 L733.1,734.7 L733.3,735.0 L733.6,734.2 L733.8,733.1 L734.0,733.6 L734.2,731.8 L734.4,732.0 L734.6,730.5 L734.8,728.5 L735.0,725.6 L735.2,723.5 L735.4,722.9 L735.6,722.3 L735.8,722.5 L736.0,722.0 L736.2,721.6 L736.4,721.3 L736.6,721.6 L736.8,720.1 L737.0,721.1 L737.2,723.1 L737.4,724.8 L737.6,723.2 L737.9,722.1 L738.1,720.1 L738.3,718.8 L738.5,717.4 L738.7,715.1 L738.9,715.1 L739.1,712.8 L739.3,711.7 L739.5,711.6 L739.7,710.2 L739.9,707.8 L740.1,708.7 L740.3,707.0 L740.5,706.0 L740.7,710.2 L740.9,712.8 L741.1,717.9 L741.3,721.1 L741.5,718.3 L741.7,713.3 L741.9,710.3 L742.2,706.5 L742.4,702.6 L742.6,700.9 L742.8,701.0 L743.0,699.5 L743.2,697.9 L743.4,696.5 L743.6,696.1 L743.8,693.9 L744.0,693.4 L744.2,688.7 L744.4,688.2 L744.6,683.3 L744.8,682.2 L745.0,679.8 L745.2,672.5 L745.4,665.0 L745.6,660.8 L745.8,654.2 L746.0,648.7 L746.2,642.3 L746.5,613.1 L746.7,620.7 L746.9,628.2 L747.1,632.6 L747.3,628.7 L747.5,621.3 L747.7,618.9 L747.9,607.1 L748.1,600.2 L748.3,589.8 L748.5,587.3 L748.7,598.4 L748.9,607.3 L749.1,620.8 L749.3,633.8 L749.5,644.2 L749.7,640.5 L749.9,642.3 L750.1,632.4 L750.3,624.8 L750.5,632.4 L750.8,641.1 L751.0,649.4 L751.2,655.9 L751.4,649.1 L751.6,646.2 L751.8,638.4 L752.0,634.1 L752.2,624.1 L752.4,620.5 L752.6,612.1 L752.8,618.6 L753.0,628.6 L753.2,635.0 L753.4,641.1 L753.6,649.1 L753.8,652.3 L754.0,655.1 L754.2,661.3 L754.4,662.3 L754.6,667.6 L754.8,669.5 L755.1,662.7 L755.3,659.2 L755.5,654.0 L755.7,654.9 L755.9,657.6 L756.1,658.2 L756.3,661.1 L756.5,660.5 L756.7,661.8 L756.9,662.2 L757.1,664.7 L757.3,670.0 L757.5,676.4 L757.7,684.0 L757.9,690.0 L758.1,695.5 L758.3,701.0 L758.5,705.9 L758.7,711.4 L758.9,709.3 L759.1,704.1 L759.4,702.8 L759.6,698.5 L759.8,694.8 L760.0,692.1 L760.2,689.9 L760.4,684.9 L760.6,684.0 L760.8,681.2 L761.0,677.1 L761.2,674.4 L761.4,673.6 L761.6,669.9 L761.8,667.6 L762.0,669.9 L762.2,675.0 L762.4,678.0 L762.6,682.1 L762.8,685.1 L763.0,682.8 L763.2,680.8 L763.4,678.1 L763.6,674.7 L763.9,671.9 L764.1,671.1 L764.3,668.8 L764.5,666.6 L764.7,671.1 L764.9,677.7 L765.1,683.7 L765.3,688.0 L765.5,689.3 L765.7,693.2 L765.9,693.6 L766.1,697.3 L766.3,698.7 L766.5,697.3 L766.7,699.7 L766.9,698.1 L767.1,698.7 L767.3,695.1 L767.5,695.1 L767.7,691.9 L767.9,693.3 L768.2,697.0 L768.4,700.1 L768.6,700.1 L768.8,702.4 L769.0,705.4 L769.2,709.1 L769.4,709.7 L769.6,711.9 L769.8,712.3 L770.0,712.3 L770.2,713.0 L770.4,713.3 L770.6,714.8 L770.8,714.2 L771.0,714.3 L771.2,711.2 L771.4,708.9 L771.6,708.3 L771.8,706.4 L772.0,703.5 L772.2,701.6 L772.5,699.9 L772.7,698.8 L772.9,699.2 L773.1,696.9 L773.3,695.7 L773.5,693.5 L773.7,692.8 L773.9,692.4 L774.1,690.0 L774.3,687.2 L774.5,686.9 L774.7,684.6 L774.9,684.4 L775.1,686.7 L775.3,686.7 L775.5,687.0 L775.7,689.6 L775.9,690.1 L776.1,690.5 L776.3,690.0 L776.5,686.4 L776.8,684.7 L777.0,682.7 L777.2,685.3 L777.4,686.9 L777.6,691.9 L777.8,692.1 L778.0,694.4 L778.2,696.8 L778.4,697.5 L778.6,697.2 L778.8,696.9 L779.0,699.4 L779.2,700.2 L779.4,700.2 L779.6,701.5 L779.8,701.9 L780.0,702.3 L780.2,704.4 L780.4,704.0 L780.6,705.5 L780.8,707.0 L781.1,706.4 L781.3,707.5 L781.5,708.4 L781.7,709.4 L781.9,707.2 L782.1,707.7 L782.3,706.6 L782.5,705.2 L782.7,704.0 L782.9,703.6 L783.1,705.7 L783.3,706.0 L783.5,708.1 L783.7,708.4 L783.9,709.2 L784.1,711.5 L784.3,712.8 L784.5,714.4 L784.7,715.6 L784.9,717.2 L785.1,718.0 L785.4,715.5 L785.6,714.9 L785.8,714.6 L786.0,714.3 L786.2,713.8 L786.4,712.8 L786.6,714.4 L786.8,714.9 L787.0,717.3 L787.2,718.7 L787.4,718.5 L787.6,721.6 L787.8,720.7 L788.0,721.1 L788.2,719.2 L788.4,717.7 L788.6,717.0 L788.8,714.3 L789.0,715.0 L789.2,714.2 L789.4,716.3 L789.7,716.5 L789.9,716.9 L790.1,716.8 L790.3,716.6 L790.5,717.2 L790.7,715.5 L790.9,715.8 L791.1,712.0 L791.3,712.1 L791.5,710.7 L791.7,708.0 L791.9,707.5 L792.1,706.0 L792.3,705.4 L792.5,703.4 L792.7,702.0 L792.9,700.6 L793.1,698.5 L793.3,696.8 L793.5,697.1 L793.7,698.3 L794.0,700.7 L794.2,697.9 L794.4,702.1 L794.6,702.1 L794.8,703.1 L795.0,704.9 L795.2,706.1 L795.4,708.8 L795.6,710.4 L795.8,711.5 L796.0,711.7 L796.2,714.5 L796.4,716.6 L796.6,717.1 L796.8,718.7 L797.0,719.0 L797.2,718.7 L797.4,718.2 L797.6,718.2 L797.8,717.9 L798.0,718.0 L798.3,717.1 L798.5,717.6 L798.7,718.2 L798.9,716.6 L799.1,717.1 L799.3,716.7 L799.5,714.9 L799.7,714.7 L799.9,712.6 L800.1,711.6 L800.3,712.1 L800.5,709.4 L800.7,709.9 L800.9,709.5 L801.1,707.3 L801.3,709.5 L801.5,707.0 L801.7,706.7 L801.9,707.0 L802.1,709.5 L802.3,712.1 L802.6,715.7 L802.8,718.2 L803.0,718.0 L803.2,717.8 L803.4,717.5 L803.6,717.1 L803.8,717.6 L804.0,717.8 L804.2,717.5 L804.4,716.8 L804.6,717.5 L804.8,716.7 L805.0,716.6 L805.2,715.3 L805.4,714.5 L805.6,713.3 L805.8,713.5 L806.0,715.1 L806.2,713.9 L806.4,713.9 L806.6,713.3 L806.8,715.3 L807.1,714.3 L807.3,714.0 L807.5,714.3 L807.7,714.4 L807.9,714.3 L808.1,714.6 L808.3,716.4 L808.5,715.5 L808.7,716.6 L808.9,717.2 L809.1,716.2 L809.3,717.6 L809.5,717.7 L809.7,717.4 L809.9,716.3 L810.1,715.7 L810.3,714.3 L810.5,714.1 L810.7,714.5 L810.9,714.1 L811.1,714.8 L811.4,715.6 L811.6,714.7 L811.8,716.0 L812.0,716.1 L812.2,716.1 L812.4,716.1 L812.6,715.5 L812.8,716.8 L813.0,716.5 L813.2,716.9 L813.4,717.4 L813.6,717.2 L813.8,717.4 L814.0,716.8 L814.2,716.1 L814.4,715.9 L814.6,715.5 L814.8,715.5 L815.0,715.3 L815.2,715.7 L815.4,715.5 L815.7,716.7 L815.9,717.1 L816.1,716.6 L816.3,716.7 L816.5,722.6 L816.7,725.1 L816.9,726.6 L817.1,728.5 L817.3,730.2 L817.5,731.8 L817.7,735.7 L817.9,737.0 L818.1,738.7 L818.3,739.9 L818.5,741.0 L818.7,740.7 L818.9,739.0 L819.1,738.5 L819.3,737.2 L819.5,738.0 L819.7,740.0 L820.0,740.2 L820.2,740.7 L820.4,742.8 L820.6,742.8 L820.8,743.6 L821.0,744.5 L821.2,745.4 L821.4,746.0 L821.6,745.8 L821.8,746.1 L822.0,746.8 L822.2,746.4 L822.4,746.9 L822.6,747.1 L822.8,747.4 L823.0,745.7 L823.2,743.7 L823.4,742.1 L823.6,740.0 L823.8,738.6 L824.0,738.6 L824.3,739.1 L824.5,739.1 L824.7,739.1 L824.9,739.2 L825.1,740.1 L825.3,740.2 L825.5,740.5 L825.7,741.3 L825.9,742.3 L826.1,742.0 L826.3,741.5 L826.5,741.0 L826.7,740.5 L826.9,740.4 L827.1,739.2 L827.3,739.1 L827.5,740.1 L827.7,741.3 L827.9,742.3 L828.1,743.0 L828.3,743.0 L828.6,743.5 L828.8,743.6 L829.0,742.8 L829.2,743.1 L829.4,743.2 L829.6,743.2 L829.8,743.6 L830.0,744.6 L830.2,743.6 L830.4,743.7 L830.6,744.1 L830.8,745.1 L831.0,744.1 L831.2,744.2 L831.4,744.8 L831.6,744.8 L831.8,744.9 L832.0,744.6 L832.2,744.6 L832.4,744.0 L832.6,744.2 L832.9,743.8 L833.1,743.8 L833.3,744.3 L833.5,743.9 L833.7,742.4 L833.9,743.1 L834.1,743.0 L834.3,742.4 L834.5,742.1 L834.7,741.6 L834.9,741.8 L835.1,742.0 L835.3,741.5 L835.5,742.0 L835.7,741.1 L835.9,740.6 L836.1,740.6 L836.3,740.9 L836.5,739.7 L836.7,739.0 L836.9,738.5 L837.2,738.6 L837.4,742.0 L837.6,742.1 L837.8,742.0 L838.0,742.3 L838.2,742.1 L838.4,741.4 L838.6,740.7 L838.8,742.0 L839.0,740.8 L839.2,741.1 L839.4,741.5 L839.6,740.2 L839.8,742.1 L840.0,741.0 L840.2,740.9 L840.4,740.1 L840.6,740.2 L840.8,740.1 L841.0,740.6 L841.2,740.6 L841.5,740.2 L841.7,739.9 L841.9,740.0 L842.1,739.9 L842.3,739.9 L842.5,739.9 L842.7,740.1 L842.9,738.5 L843.1,739.5 L843.3,740.1 L843.5,738.9 L843.7,738.9 L843.9,738.6 L844.1,737.9 L844.3,738.4 L844.5,738.3 L844.7,738.1 L844.9,730.8 L845.1,730.6 L845.3,729.9 L845.5,729.6 L845.8,728.8 L846.0,726.6 L846.2,727.7 L846.4,727.7 L846.6,726.9 L846.8,726.2 L847.0,726.3 L847.2,726.1 L847.4,725.9 L847.6,725.7 L847.8,725.6 L848.0,725.0 L848.2,725.1 L848.4,724.8 L848.6,725.7 L848.8,725.3 L849.0,725.4 L849.2,725.0 L849.4,724.9 L849.6,725.1 L849.8,726.1 L850.0,725.7 L850.3,725.0 L850.5,726.2 L850.7,726.9 L850.9,726.1 L851.1,724.1 L851.3,722.6 L851.5,721.6 L851.7,721.3 L851.9,720.4 L852.1,719.2 L852.3,719.2 L852.5,718.7 L852.7,714.4 L852.9,708.5 L853.1,705.3 L853.3,703.3 L853.5,700.7 L853.7,702.7 L853.9,705.3 L854.1,707.0 L854.3,706.2 L854.6,705.0 L854.8,703.0 L855.0,702.3 L855.2,702.4 L855.4,697.5 L855.6,698.1 L855.8,696.2 L856.0,694.0 L856.2,692.9 L856.4,695.7 L856.6,694.5 L856.8,697.6 L857.0,697.6 L857.2,700.0 L857.4,700.7 L857.6,702.2 L857.8,703.6 L858.0,703.7 L858.2,705.3 L858.4,705.1 L858.6,704.0 L858.9,704.1 L859.1,701.4 L859.3,700.8 L859.5,698.0 L859.7,696.4 L859.9,694.3 L860.1,692.2 L860.3,690.9 L860.5,689.3 L860.7,685.1 L860.9,682.9 L861.1,680.2 L861.3,677.9 L861.5,674.4 L861.7,669.7 L861.9,664.6 L862.1,658.9 L862.3,652.0 L862.5,669.5 L862.7,668.3 L862.9,670.3 L863.2,673.9 L863.4,675.4 L863.6,673.4 L863.8,670.4 L864.0,669.7 L864.2,669.7 L864.4,666.1 L864.6,661.1 L864.8,657.5 L865.0,656.4 L865.2,660.8 L865.4,665.1 L865.6,670.6 L865.8,674.0 L866.0,679.1 L866.2,683.4 L866.4,686.6 L866.6,683.6 L866.8,680.7 L867.0,677.9 L867.2,673.9 L867.5,676.0 L867.7,677.8 L867.9,678.0 L868.1,678.1 L868.3,681.4 L868.5,680.6 L868.7,685.2 L868.9,685.6 L869.1,682.7 L869.3,681.2 L869.5,677.6 L869.7,674.5 L869.9,671.2 L870.1,668.0 L870.3,666.9 L870.5,663.7 L870.7,665.0 L870.9,663.7 L871.1,663.0 L871.3,663.2 L871.5,667.4 L871.8,669.1 L872.0,671.7 L872.2,678.5 L872.4,680.7 L872.6,679.3 L872.8,677.3 L873.0,679.6 L873.2,676.0 L873.4,675.2 L873.6,673.9 L873.8,676.2 L874.0,675.0 L874.2,677.3 L874.4,679.3 L874.6,679.5 L874.8,680.6 L875.0,681.9 L875.2,683.6 L875.4,686.1 L875.6,683.4 L875.8,681.3 L876.1,681.0 L876.3,677.9 L876.5,675.4 L876.7,676.0 L876.9,680.1 L877.1,677.8 L877.3,676.2 L877.5,678.2 L877.7,679.0 L877.9,679.9 L878.1,677.5 L878.3,677.8 L878.5,677.8 L878.7,678.5 L878.9,678.6 L879.1,679.3 L879.3,679.3 L879.5,678.7 L879.7,678.8 L879.9,682.6 L880.1,684.7 L880.4,688.8 L880.6,691.9 L880.8,695.3 L881.0,695.4 L881.2,695.0 L881.4,696.0 L881.6,696.7 L881.8,697.5 L882.0,697.7 L882.2,698.4 L882.4,698.3 L882.6,697.5 L882.8,698.1 L883.0,698.8 L883.2,699.4 L883.4,698.7 L883.6,699.7 L883.8,697.9 L884.0,697.2 L884.2,697.7 L884.4,698.3 L884.7,700.0 L884.9,700.0 L885.1,700.3 L885.3,702.0 L885.5,701.6 L885.7,702.7 L885.9,703.9 L886.1,704.9 L886.3,704.1 L886.5,705.2 L886.7,706.0 L886.9,706.5 L887.1,694.3 L887.3,688.5 L887.5,689.4 L887.7,688.5 L887.9,689.0 L888.1,687.3 L888.3,687.3 L888.5,688.0 L888.7,686.0 L889.0,687.5 L889.2,687.0 L889.4,688.4 L889.6,687.1 L889.8,688.9 L890.0,689.0 L890.2,689.9 L890.4,690.5 L890.6,692.3 L890.8,693.8 L891.0,693.9 L891.2,693.7 L891.4,695.8 L891.6,697.9 L891.8,697.4 L892.0,699.7 L892.2,702.3 L892.4,702.5 L892.6,704.1 L892.8,706.1 L893.0,709.6 L893.2,711.4 L893.5,708.9 L893.7,709.0 L893.9,705.7 L894.1,705.4 L894.3,703.1 L894.5,703.9 L894.7,706.8 L894.9,706.4 L895.1,707.9 L895.3,708.5 L895.5,709.1 L895.7,708.1 L895.9,707.4 L896.1,707.6 L896.3,707.0 L896.5,708.4 L896.7,708.5 L896.9,710.9 L897.1,710.0 L897.3,710.9 L897.5,711.0 L897.8,712.5 L898.0,713.8 L898.2,707.5 L898.4,707.2 L898.6,707.1 L898.8,707.2 L899.0,707.9 L899.2,707.0 L899.4,706.4 L899.6,707.0 L899.8,707.8 L900.0,708.7 L900.2,706.7 L900.4,707.7 L900.6,708.9 L900.8,708.5 L901.0,707.5 L901.2,706.0 L901.4,707.0 L901.6,705.1 L901.8,702.7 L902.1,701.5 L902.3,699.2 L902.5,699.7 L902.7,698.3 L902.9,699.2 L903.1,695.2 L903.3,695.9 L903.5,694.6 L903.7,692.9 L903.9,692.5 L904.1,693.6 L904.3,692.8 L904.5,693.0 L904.7,693.9 L904.9,695.1 L905.1,695.9 L905.3,695.4 L905.5,695.2 L905.7,696.3 L905.9,694.4 L906.1,691.7 L906.3,692.6 L906.5,689.0 L906.7,688.2 L907.0,686.1 L907.2,685.8 L907.4,685.4 L907.6,686.6 L907.8,685.7 L908.0,686.2 L908.2,685.1 L908.4,683.5 L908.6,683.4 L908.8,681.6 L909.0,679.8 L909.2,679.3 L909.4,680.0 L909.6,677.9 L909.8,678.8 L910.0,680.3 L910.2,680.0 L910.4,681.6 L910.6,684.1 L910.8,684.2 L911.0,685.1 L911.2,685.7 L911.4,685.3 L911.6,685.1 L911.9,683.2 L912.1,684.6 L912.3,687.3 L912.5,687.6 L912.7,691.2 L912.9,693.9 L913.1,694.4 L913.3,694.7 L913.5,691.9 L913.7,691.4 L913.9,693.9 L914.1,691.2 L914.3,691.1 L914.5,691.9 L914.7,700.2 L914.9,700.3 L915.1,701.3 L915.3,701.6 L915.5,730.3 L915.7,730.3 L915.9,730.0 L916.1,730.1 L916.3,729.9 L916.5,726.3 L916.8,722.3 L917.0,718.2 L917.2,716.9 L917.4,717.4 L917.6,716.1 L917.8,715.7 L918.0,716.4 L918.2,716.3 L918.4,716.9 L918.6,716.2 L918.8,715.7 L919.0,716.0 L919.2,716.2 L919.4,715.6 L919.6,714.3 L919.8,712.8 L920.0,712.3 L920.2,710.6 L920.4,709.5 L920.6,708.3 L920.8,707.5 L921.0,710.8 L921.2,711.4 L921.4,711.9 L921.7,711.0 L921.9,711.1 L922.1,708.9 L922.3,710.4 L922.5,710.1 L922.7,709.4 L922.9,708.1 L923.1,707.9 L923.3,706.2 L923.5,706.8 L923.7,706.8 L923.9,705.7 L924.1,705.5 L924.3,703.9 L924.5,701.7 L924.7,699.7 L924.9,697.3 L925.1,694.5 L925.3,692.9 L925.5,694.3 L925.7,694.0 L925.9,692.4 L926.1,691.9 L926.3,689.8 L926.6,685.9 L926.8,686.8 L927.0,681.7 L927.2,685.8 L927.4,689.3 L927.6,693.4 L927.8,691.9 L928.0,687.4 L928.2,685.9 L928.4,683.6 L928.6,683.1 L928.8,683.5 L929.0,684.2 L929.2,685.4 L929.4,686.5 L929.6,686.1 L929.8,687.4 L930.0,688.9 L930.2,689.3 L930.4,691.1 L930.6,691.9 L930.8,688.0 L931.0,689.8 L931.2,685.3 L931.5,685.2 L931.7,683.1 L931.9,680.4 L932.1,679.3 L932.3,686.1 L932.5,685.6 L932.7,686.2 L932.9,684.2 L933.1,684.3 L933.3,685.8 L933.5,683.0 L933.7,683.4 L933.9,682.2 L934.1,683.8 L934.3,683.6 L934.5,684.8 L934.7,686.3 L934.9,687.0 L935.1,685.2 L935.3,686.0 L935.5,686.7 L935.7,685.4 L935.9,685.4 L936.1,686.5 L936.4,684.6 L936.6,687.2 L936.8,688.6 L937.0,686.3 L937.2,689.8 L937.4,690.9 L937.6,690.7 L937.8,690.5 L938.0,689.5 L938.2,688.8 L938.4,689.3 L938.6,687.6 L938.8,688.3 L939.0,687.3 L939.2,689.0 L939.4,688.4 L939.6,689.0 L939.8,688.7 L940.0,688.5 L940.2,689.6 L940.4,689.1 L940.6,689.5 L940.8,689.4 L941.0,687.5 L941.3,688.5 L941.5,687.7 L941.7,688.2 L941.9,688.4 L942.1,689.0 L942.3,686.7 L942.5,687.0 L942.7,685.1 L942.9,680.9 L943.1,678.7 L943.3,675.4 L943.5,671.5 L943.7,668.8 L943.9,665.7 L944.1,668.0 L944.3,663.5 L944.5,663.7 L944.7,662.9 L944.9,665.0 L945.1,663.6 L945.3,663.7 L945.5,664.2 L945.7,664.5 L945.9,666.0 L946.2,667.9 L946.4,666.9 L946.6,667.6 L946.8,665.3 L947.0,663.7 L947.2,662.3 L947.4,660.4 L947.6,661.3 L947.8,658.8 L948.0,660.0 L948.2,660.8 L948.4,661.0 L948.6,663.2 L948.8,664.0 L949.0,665.6 L949.2,665.2 L949.4,668.1 L949.6,669.1 L949.8,666.4 L950.0,662.4 L950.2,664.4 L950.4,666.1 L950.6,663.0 L950.9,662.2 L951.1,672.5 L951.3,679.3 L951.5,680.3 L951.7,679.8 L951.9,679.3 L952.1,677.6 L952.3,678.5 L952.5,678.0 L952.7,677.4 L952.9,678.1 L953.1,678.7 L953.3,677.8 L953.5,676.7 L953.7,675.0 L953.9,674.5 L954.1,673.7 L954.3,672.0 L954.5,670.5 L954.7,674.1 L954.9,675.9 L955.1,676.8 L955.3,678.8 L955.5,678.6 L955.8,677.9 L956.0,675.9 L956.2,676.7 L956.4,676.7 L956.6,677.4 L956.8,676.6 L957.0,675.4 L957.2,674.7 L957.4,675.5 L957.6,673.6 L957.8,675.0 L958.0,673.1 L958.2,672.9 L958.4,672.5 L958.6,669.8 L958.8,669.8 L959.0,668.1 L959.2,666.1 L959.4,665.6 L959.6,665.5 L959.8,663.1 L960.0,665.4 L960.2,665.4 L960.4,664.7 L960.7,664.2 L960.9,658.4 L961.1,654.0 L961.3,652.3 L961.5,650.3 L961.7,651.9 L961.9,645.0 L962.1,645.1 L962.3,645.7 L962.5,645.4 L962.7,646.8 L962.9,644.4 L963.1,644.2 L963.3,644.8 L963.5,646.7 L963.7,643.3 L963.9,633.4 L964.1,626.7 L964.3,629.5 L964.5,627.1 L964.7,626.5 L964.9,629.2 L965.1,625.3 L965.3,627.2 L965.6,620.1 L965.8,619.9 L966.0,615.1 L966.2,613.8 L966.4,608.9 L966.6,606.3 L966.8,600.4 L967.0,600.8 L967.2,597.1 L967.4,595.9 L967.6,595.8 L967.8,591.3 L968.0,592.2 L968.2,606.3 L968.4,611.6 L968.6,603.1 L968.8,601.2 L969.0,591.4 L969.2,586.8 L969.4,592.3 L969.6,593.7 L969.8,595.2 L970.0,596.6 L970.2,596.1 L970.5,601.9 L970.7,598.4 L970.9,600.5 L971.1,602.5 L971.3,599.7 L971.5,602.9 L971.7,600.1 L971.9,595.3 L972.1,593.4 L972.3,589.8 L972.5,571.3 L972.7,556.7 L972.9,552.9 L973.1,557.8 L973.3,557.1 L973.5,557.2 L973.7,549.1 L973.9,550.5 L974.1,547.4 L974.3,532.6 L974.5,521.7 L974.7,520.7 L974.9,515.3 L975.1,505.9 L975.4,497.8 L975.6,496.4 L975.8,492.5 L976.0,465.2 L976.2,457.4 L976.4,467.2 L976.6,447.7 L976.8,420.5 L977.0,395.2 L977.2,382.5 L977.4,387.4 L977.6,406.9 L977.8,433.1 L978.0,447.7 L978.2,414.6 L978.4,397.1 L978.6,420.5 L978.8,428.3 L979.0,430.2 L979.2,422.4 L979.4,428.3 L979.7,433.1 L979.9,478.8 L980.1,457.4 L980.3,466.2 L980.5,464.3 L980.7,464.3 L980.9,462.3 L981.1,482.7 L981.3,453.6 L981.5,444.8 L981.7,444.8 L981.9,456.5 L982.1,452.6 L982.3,433.1 L982.5,413.7 L982.7,418.5 L982.9,405.9 L983.1,396.2 L983.3,400.0 L983.5,327.1 L983.7,326.1 L983.9,341.7 L984.2,311.5 L984.4,317.3 L984.6,319.3 L984.8,304.7 L985.0,312.5 L985.2,299.8 L985.4,271.6 L985.6,276.5 L985.8,234.6 L986.0,233.7 L986.2,219.1 L986.4,251.2 L986.6,302.8 L986.8,295.0 L987.0,320.3 L987.2,328.0 L987.4,329.0 L987.6,338.7 L987.8,295.9 L988.0,307.6 L988.2,287.2 L988.5,306.6 L988.7,302.8 L988.9,302.8 L989.1,280.4 L989.3,269.7 L989.5,244.4 L989.7,233.7 L989.9,216.2 L990.1,221.0 L990.3,183.1 L990.5,201.6 L990.7,234.6 L990.9,224.9 L991.1,205.5 L991.3,217.1 L991.5,211.3 L991.7,211.3 L991.9,219.1 L992.1,248.3 L992.3,246.3 L992.5,264.8 L992.8,275.5 L993.0,242.4 L993.2,233.7 L993.4,235.6 L993.6,217.1 L993.8,205.5 L994.0,205.5 L994.2,203.5 L994.4,200.6 L994.6,218.1 L994.8,206.4 L995.0,203.5 L995.2,212.3 L995.4,232.7 L995.6,211.3 L995.8,212.3 L996.0,196.7 L996.2,192.8 L996.4,195.7 L996.6,160.7 L996.8,164.6 L997.1,162.7 L997.3,179.2 L997.5,187.9 L997.7,231.7 L997.9,236.6 L998.1,228.8 L998.3,255.1 L998.5,274.5 L998.7,281.3 L998.9,291.1 L999.1,301.8 L999.3,253.1 L999.5,243.4 L999.7,245.4 L999.9,257.0 L1000.1,216.2 L1000.3,216.2 L1000.5,227.8 L1000.7,222.0 L1000.9,259.9 L1001.1,220.1 L1001.4,229.8 L1001.6,220.1 L1001.8,206.4 L1002.0,212.3 L1002.2,234.6 L1002.4,226.9 L1002.6,296.9 L1002.8,295.0 L1003.0,293.0 L1003.2,323.2 L1003.4,327.1 L1003.6,355.3 L1003.8,361.1 L1004.0,418.5 L1004.2,383.5 L1004.4,415.6 L1004.6,413.7 L1004.8,440.9 L1005.0,402.0 L1005.2,404.9 L1005.4,396.2 L1005.7,403.9 L1005.9,431.2 L1006.1,441.9 L1006.3,431.2 L1006.5,415.6 L1006.7,421.4 L1006.9,412.7 L1007.1,397.1 L1007.3,419.5 L1007.5,433.1 L1007.7,430.2 L1007.9,451.6 L1008.1,453.6 L1008.3,414.6 L1008.5,421.4 L1008.7,415.6 L1008.9,432.1 L1009.1,399.1 L1009.3,384.5 L1009.5,387.4 L1009.7,405.9 L1010.0,407.8 L1010.2,430.2 L1010.4,432.1 L1010.6,432.1 L1010.8,470.1 L1011.0,462.3 L1011.2,450.6 L1011.4,440.9 L1011.6,471.1 L1011.8,465.2 L1012.0,441.9 L1012.2,442.8 L1012.4,429.2 L1012.6,438.0 L1012.8,452.6 L1013.0,449.7 L1013.2,440.9 L1013.4,435.1 L1013.6,450.6 L1013.8,445.8 L1014.0,448.7 L1014.3,458.4 L1014.5,449.7 L1014.7,452.6 L1014.9,445.8 L1015.1,456.5 L1015.3,460.4 L1015.5,459.4 L1015.7,469.1 L1015.9,473.0 L1016.1,472.0 L1016.3,469.1 L1016.5,478.8 L1016.7,488.6 L1016.9,466.2 L1017.1,464.3 L1017.3,451.6 L1017.5,444.8 L1017.7,434.1 L1017.9,415.6 L1018.1,395.2 L1018.3,389.3 L1018.6,389.3 L1018.8,367.9 L1019.0,374.7 L1019.2,390.3 L1019.4,397.1 L1019.6,406.9 L1019.8,392.3 L1020.0,380.6 L1020.2,362.1 L1020.4,344.6 L1020.6,352.4 L1020.8,328.0 L1021.0,334.9 L1021.2,334.9 L1021.4,346.5 L1021.6,313.5 L1021.8,320.3 L1022.0,321.2 L1022.2,331.9 L1022.4,343.6 L1022.6,342.6 L1022.9,324.2 L1023.1,298.9 L1023.3,302.8 L1023.5,298.9 L1023.7,296.9 L1023.9,314.4 L1024.1,301.8 L1024.3,322.2 L1024.5,300.8 L1024.7,302.8 L1024.9,303.7 L1025.1,321.2 L1025.3,320.3 L1025.5,303.7 L1025.7,298.9 L1025.9,292.1 L1026.1,293.0 L1026.3,274.5 L1026.5,265.8 L1026.7,323.2 L1026.9,330.0 L1027.1,327.1 L1027.4,342.6 L1027.6,338.7 L1027.8,331.0 L1028.0,340.7 L1028.2,320.3 L1028.4,310.5 L1028.6,313.5 L1028.8,318.3 L1029.0,308.6 L1029.2,319.3 L1029.4,360.2 L1029.6,382.5 L1029.8,354.3 L1030.0,341.7 L1030.2,362.1 L1030.4,363.1 L1030.6,358.2 L1030.8,367.9 L1031.0,379.6 L1031.2,374.7 L1031.4,352.4 L1031.7,310.5 L1031.9,314.4 L1032.1,309.6 L1032.3,300.8 L1032.5,277.5 L1032.7,240.5 L1032.9,255.1 L1033.1,254.1 L1033.3,244.4 L1033.5,246.3 L1033.7,219.1 L1033.9,233.7 L1034.1,220.1 L1034.3,221.0 L1034.5,179.2 L1034.7,186.0 L1034.9,180.2 L1035.1,175.3 L1035.3,152.9 L1035.5,136.4 L1035.7,173.4 L1036.0,187.9 L1036.2,181.1 L1036.4,186.0 L1036.6,165.6 L1036.8,191.8 L1037.0,209.4 L1037.2,188.9 L1037.4,173.4 L1037.6,176.3 L1037.8,182.1 L1038.0,185.0 L1038.2,163.6 L1038.4,166.5 L1038.6,181.1 L1038.8,185.0 L1039.0,180.2 L1039.2,162.7 L1039.4,121.8 L1039.6,126.7 L1039.8,147.1 L1040.0,147.1 L1040.3,154.9 L1040.5,152.0 L1040.7,141.3 L1040.9,159.7 L1041.1,193.8 L1041.3,191.8 L1041.5,224.9 L1041.7,213.2 L1041.9,197.7 L1042.1,207.4 L1042.3,230.8 L1042.5,218.1 L1042.7,222.0 L1042.9,205.5 L1043.1,256.1 L1043.3,245.4 L1043.5,221.0 L1043.7,216.2 L1043.9,223.9 L1044.1,222.0 L1044.3,228.8 L1044.6,257.0 L1044.8,299.8 L1045.0,297.9 L1045.2,287.2 L1045.4,286.2 L1045.6,287.2 L1045.8,315.4 L1046.0,319.3 L1046.2,297.9 L1046.4,291.1 L1046.6,324.2 L1046.8,307.6 L1047.0,302.8 L1047.2,315.4 L1047.4,329.0 L1047.6,323.2 L1047.8,324.2 L1048.0,322.2 L1048.2,302.8 L1048.4,305.7 L1048.6,284.3 L1048.9,284.3 L1049.1,288.2 L1049.3,284.3 L1049.5,285.2 L1049.7,316.4 L1049.9,326.1 L1050.1,320.3 L1050.3,328.0 L1050.5,314.4 L1050.7,318.3 L1050.9,327.1 L1051.1,331.9 L1051.3,355.3 L1051.5,359.2 L1051.7,374.7 L1051.9,372.8 L1052.1,370.9 L1052.3,371.8 L1052.5,363.1 L1052.7,351.4 L1052.9,364.0 L1053.2,359.2 L1053.4,358.2 L1053.6,359.2 L1053.8,367.9 L1054.0,366.0 L1054.2,372.8 L1054.4,382.5 L1054.6,423.4 L1054.8,438.0 L1055.0,425.3 L1055.2,421.4 L1055.4,418.5 L1055.6,420.5 L1055.8,417.6 L1056.0,410.7 L1056.2,406.9 L1056.4,409.8 L1056.6,403.9 L1056.8,402.0 L1057.0,419.5 L1057.2,416.6 L1057.5,374.7 L1057.7,375.7 L1057.9,366.0 L1058.1,352.4 L1058.3,349.5 L1058.5,346.5 L1058.7,354.3 L1058.9,366.0 L1059.1,367.9 L1059.3,367.9 L1059.5,364.0 L1059.7,344.6 L1059.9,351.4 L1060.1,384.5 L1060.3,389.3 L1060.5,388.4 L1060.7,404.9 L1060.9,418.5 L1061.1,405.9 L1061.3,415.6 L1061.5,405.9 L1061.8,397.1 L1062.0,398.1 L1062.2,411.7 L1062.4,358.2 L1062.6,346.5 L1062.8,351.4 L1063.0,365.0 L1063.2,398.1 L1063.4,395.2 L1063.6,404.9 L1063.8,408.8 L1064.0,402.0 L1064.2,369.9 L1064.4,395.2 L1064.6,401.0 L1064.8,400.0 L1065.0,410.7 L1065.2,392.3 L1065.4,396.2 L1065.6,378.6 L1065.8,380.6 L1066.1,371.8 L1066.3,367.9 L1066.5,376.7 L1066.7,379.6 L1066.9,366.0 L1067.1,361.1 L1067.3,350.4 L1067.5,347.5 L1067.7,345.6 L1067.9,323.2 L1068.1,320.3 L1068.3,316.4 L1068.5,320.3 L1068.7,335.8 L1068.9,328.0 L1069.1,331.9 L1069.3,327.1 L1069.5,325.1 L1069.7,335.8 L1069.9,358.2 L1070.1,355.3 L1070.3,367.0 L1070.6,362.1 L1070.8,367.9 L1071.0,394.2 L1071.2,388.4 L1071.4,377.7 L1071.6,390.3 L1071.8,383.5 L1072.0,385.4 L1072.2,392.3 L1072.4,381.6 L1072.6,374.7 L1072.8,375.7 L1073.0,384.5 L1073.2,392.3 L1073.4,395.2 L1073.6,394.2 L1073.8,385.4 L1074.0,407.8 L1074.2,397.1 L1074.4,391.3 L1074.6,403.0 L1074.9,411.7 L1075.1,403.9 L1075.3,403.9 L1075.5,411.7 L1075.7,392.3 L1075.9,422.4 L1076.1,428.3 L1076.3,433.1 L1076.5,447.7 L1076.7,483.7 L1076.9,476.9 L1077.1,496.4 L1077.3,496.4 L1077.5,493.4 L1077.7,485.7 L1077.9,474.0 L1078.1,487.6 L1078.3,482.7 L1078.5,499.3 L1078.7,483.7 L1078.9,494.4 L1079.2,492.5 L1079.4,483.7 L1079.6,495.4 L1079.8,490.5 L1080.0,491.5 L1080.2,493.4 L1080.4,500.3 L1080.6,496.4 L1080.8,492.5 L1081.0,470.1 L1081.2,469.1 L1081.4,488.6 L1081.6,481.8 L1081.8,489.5 L1082.0,488.6 L1082.2,487.6 L1082.4,473.0 L1082.6,475.9 L1082.8,484.7 L1083.0,485.7 L1083.2,495.4 L1083.5,502.2 L1083.7,517.8 L1083.9,559.6 L1084.1,562.5 L1084.3,558.6 L1084.5,580.0 L1084.7,579.1 L1084.9,593.6 L1085.1,578.1 L1085.3,578.1 L1085.5,577.1 L1085.7,583.9 L1085.9,573.2 L1086.1,572.2 L1086.3,569.3 L1086.5,574.2 L1086.7,577.1 L1086.9,581.0 L1087.1,582.9 L1087.3,585.9 L1087.5,590.7 L1087.8,591.7 L1088.0,590.7 L1088.2,582.0 L1088.4,582.0 L1088.6,579.1 L1088.8,568.4 L1089.0,568.4 L1089.2,568.4 L1089.4,575.2 L1089.6,583.9 L1089.8,590.7 L1090.0,582.0 L1090.2,578.1 L1090.4,576.1 L1090.6,572.2 L1090.8,576.1 L1091.0,559.6 L1091.2,550.8 L1091.4,552.8 L1091.6,552.8 L1091.8,557.7 L1092.1,559.6 L1092.3,558.6 L1092.5,570.3 L1092.7,572.2 L1092.9,555.7 L1093.1,546.9 L1093.3,546.9 L1093.5,548.9 L1093.7,551.8 L1093.9,551.8 L1094.1,554.7 L1094.3,556.7 L1094.5,558.6 L1094.7,551.8 L1094.9,554.7 L1095.1,552.8 L1095.3,546.9 L1095.5,552.8 L1095.7,546.0 L1095.9,546.0 L1096.1,541.1 L1096.4,541.1 L1096.6,542.1 L1096.8,544.0 L1097.0,546.0 L1097.2,551.8 L1097.4,552.8 L1097.6,575.2 L1097.8,572.2 L1098.0,569.3 L1098.2,570.3 L1098.4,569.3 L1098.6,570.3 L1098.8,568.4 L1099.0,581.0 L1099.2,583.9 L1099.4,587.8 L1099.6,581.0 L1099.8,585.9 L1100.0,583.9 L1100.2,582.9 L1100.4,583.9 L1100.7,585.9 L1100.9,583.9 L1101.1,585.9 L1101.3,595.6 L1101.5,590.7 L1101.7,590.7 L1101.9,570.3 L1102.1,567.4 L1102.3,566.4 L1102.5,560.6 L1102.7,581.0 L1102.9,582.0 L1103.1,586.8 L1103.3,585.9 L1103.5,582.9 L1103.7,589.8 L1103.9,588.8 L1104.1,594.6 L1104.3,598.5 L1104.5,589.8 L1104.7,590.7 L1105.0,594.6 L1105.2,595.6 L1105.4,591.7 L1105.6,592.7 L1105.8,589.8 L1106.0,587.8 L1106.2,589.8 L1106.4,590.7 L1106.6,593.6 L1106.8,587.8 L1107.0,581.0 L1107.2,582.0 L1107.4,583.9 L1107.6,588.8 L1107.8,589.8 L1108.0,589.8 L1108.2,592.7 L1108.4,592.7 L1108.6,591.7 L1108.8,589.8 L1109.0,591.7 L1109.3,592.7 L1109.5,590.7 L1109.7,588.8 L1109.9,590.7 L1110.1,592.7 L1110.3,593.6 L1110.5,591.7 L1110.7,591.7 L1110.9,587.8 L1111.1,590.7 L1111.3,582.9 L1111.5,576.1 L1111.7,581.0 L1111.9,578.1 L1112.1,576.1 L1112.3,578.1 L1112.5,579.1 L1112.7,579.1 L1112.9,582.0 L1113.1,582.0 L1113.3,573.2 L1113.5,571.3 L1113.8,575.2 L1114.0,578.1 L1114.2,598.5 L1114.4,623.8 L1114.6,607.3 L1114.8,613.1 L1115.0,615.1 L1115.2,619.9 L1115.4,617.0 L1115.6,614.1 L1115.8,616.0 L1116.0,616.0 L1116.2,616.0 L1116.4,616.0 L1116.6,619.9 L1116.8,624.8 L1117.0,620.9 L1117.2,617.0 L1117.4,617.0 L1117.6,618.0 L1117.8,618.0 L1118.1,618.9 L1118.3,620.9 L1118.5,618.9 L1118.7,611.2 L1118.9,613.1 L1119.1,612.1 L1119.3,614.1 L1119.5,612.1 L1119.7,613.1 L1119.9,612.1 L1120.1,615.1 L1120.3,611.2 L1120.5,612.1 L1120.7,612.1 L1120.9,612.1 L1121.1,611.2 L1121.3,605.3 L1121.5,605.3 L1121.7,609.2 L1121.9,617.0 L1122.1,615.1 L1122.4,615.1 L1122.6,618.9 L1122.8,614.1 L1123.0,615.1 L1123.2,615.1 L1123.4,615.1 L1123.6,615.1 L1123.8,615.1 L1124.0,614.1 L1124.2,616.0 L1124.4,618.0 L1124.6,617.0 L1124.8,617.0 L1125.0,618.0 L1125.2,617.0 L1125.4,616.0 L1125.6,616.0 L1125.8,614.1 L1126.0,615.1 L1126.2,613.6 L1126.4,613.6 L1126.7,612.1 L1126.9,611.2 L1127.1,609.2 L1127.3,604.4 L1127.5,594.6 L1127.7,584.9 L1127.9,574.2 L1128.1,575.2 L1128.3,572.2 L1128.5,573.2 L1128.7,577.1 L1128.9,573.2 L1129.1,557.7 L1129.3,556.7 L1129.5,557.7 L1129.7,555.7 L1129.9,558.6 L1130.1,553.8 L1130.3,554.7 L1130.5,553.8 L1130.7,554.7 L1131.0,546.9 L1131.2,556.7 L1131.4,553.8 L1131.6,547.9 L1131.8,549.9 L1132.0,550.8 L1132.2,551.8 L1132.4,555.7 L1132.6,556.7 L1132.8,551.8 L1133.0,555.7 L1133.2,566.4 L1133.4,568.4 L1133.6,565.4 L1133.8,566.4 L1134.0,566.4 L1134.2,562.5 L1134.4,542.1 L1134.6,549.9 L1134.8,539.2 L1135.0,539.2 L1135.3,542.1 L1135.5,537.2 L1135.7,541.1 L1135.9,543.1 L1136.1,546.0 L1136.3,552.8 L1136.5,552.8 L1136.7,548.9 L1136.9,549.9 L1137.1,553.8 L1137.3,548.9 L1137.5,549.9 L1137.7,560.6 L1137.9,561.1 L1138.1,560.6 L1138.3,560.6 L1138.5,562.5 L1138.7,567.4 L1138.9,580.0 L1139.1,582.0 L1139.3,578.1 L1139.6,562.5 L1139.8,543.1 L1140.0,538.2 L1140.2,541.1 L1140.4,535.3 L1140.6,511.9 L1140.8,515.8 L1141.0,506.1 L1141.2,508.0 L1141.4,504.1 L1141.6,512.9 L1141.8,503.2 L1142.0,511.0 L1142.2,511.0 L1142.4,506.1 L1142.6,514.8 L1142.8,512.9 L1143.0,502.2 L1143.2,506.1 L1143.4,501.2 L1143.6,502.2 L1143.9,504.1 L1144.1,508.0 L1144.3,504.1 L1144.5,504.1 L1144.7,506.1 L1144.9,507.1 L1145.1,507.1 L1145.3,503.2 L1145.5,490.5 L1145.7,484.7 L1145.9,487.6 L1146.1,482.7 L1146.3,481.8 L1146.5,483.7 L1146.7,483.7 L1146.9,492.5 L1147.1,482.7 L1147.3,498.3 L1147.5,504.1 L1147.7,512.9 L1147.9,508.0 L1148.2,510.0 L1148.4,511.0 L1148.6,503.2 L1148.8,502.2 L1149.0,491.5 L1149.2,493.4 L1149.4,494.4 L1149.6,493.4 L1149.8,505.1 L1150.0,499.3 L1150.2,496.4 L1150.4,497.3 L1150.6,491.5 L1150.8,497.3 L1151.0,501.2 L1151.2,509.0 L1151.4,510.0 L1151.6,510.0 L1151.8,515.8 L1152.0,517.8 L1152.2,517.8 L1152.5,516.8 L1152.7,513.9 L1152.9,515.8 L1153.1,511.9 L1153.3,517.8 L1153.5,516.8 L1153.7,514.8 L1153.9,518.7 L1154.1,517.3 L1154.3,513.9 L1154.5,522.6 L1154.7,520.7 L1154.9,518.7 L1155.1,517.3 L1155.3,505.1 L1155.5,509.0 L1155.7,509.0 L1155.9,513.9 L1156.1,517.8 L1156.3,513.4 L1156.5,514.8 L1156.7,514.8 L1157.0,528.5 L1157.2,513.9 L1157.4,522.1 L1157.6,520.7 L1157.8,520.7 L1158.0,527.0 L1158.2,526.5 L1158.4,526.5 L1158.6,526.5 L1158.8,534.3 L1159.0,529.4 L1159.2,522.6 L1159.4,520.7 L1159.6,522.6 L1159.8,517.8 L1160.0,503.2 L1160.2,486.6 L1160.4,487.6 L1160.6,479.8 L1160.8,481.8 L1161.0,481.8 L1161.3,483.7 L1161.5,479.8 L1161.7,485.7 L1161.9,482.7 L1162.1,481.8 L1162.3,480.8 L1162.5,480.8 L1162.7,475.0 L1162.9,478.8 L1163.1,481.8 L1163.3,487.6 L1163.5,483.2 L1163.7,483.7 L1163.9,484.7 L1164.1,482.7 L1164.3,480.8 L1164.5,482.7 L1164.7,472.0 L1164.9,483.7 L1165.1,483.7 L1165.3,484.7 L1165.6,485.7 L1165.8,487.6 L1166.0,487.6 L1166.2,488.6 L1166.4,487.6 L1166.6,488.6 L1166.8,485.7 L1167.0,494.4 L1167.2,494.4 L1167.4,493.0 L1167.6,494.4 L1167.8,493.4 L1168.0,493.0 L1168.2,493.4 L1168.4,494.4 L1168.6,489.5 L1168.8,494.4 L1169.0,494.4 L1169.2,495.4 L1169.4,495.9 L1169.6,495.9 L1169.9,494.4 L1170.1,488.6 L1170.3,490.5 L1170.5,492.5 L1170.7,492.5 L1170.9,492.5 L1171.1,493.4 L1171.3,492.5 L1171.5,494.4 L1171.7,499.3 L1171.9,519.7 L1172.1,525.1 L1172.3,524.6 L1172.5,523.6 L1172.7,524.6 L1172.9,525.5 L1173.1,521.7 L1173.3,523.6 L1173.5,525.1 L1173.7,525.5 L1173.9,524.6 L1174.2,524.6 L1174.4,509.0 L1174.6,512.9 L1174.8,526.5 L1175.0,527.5 L1175.2,526.8 L1175.4,525.8 L1175.6,527.5 L1175.8,527.5 L1176.0,528.0 L1176.2,523.1 L1176.4,526.5 L1176.6,526.5 L1176.8,527.5 L1177.0,533.8 L1177.2,527.0 L1177.4,523.6 L1177.6,520.7 L1177.8,519.7 L1178.0,520.2 L1178.2,520.7 L1178.5,518.2 L1178.7,513.9 L1178.9,514.8 L1179.1,520.2 L1179.3,519.7 L1179.5,519.7 L1179.7,523.1 L1179.9,522.6 L1180.1,523.6 L1180.3,522.1 L1180.5,515.8 L1180.7,516.8 L1180.9,515.8 L1181.1,506.1 L1181.3,511.0 L1181.5,511.9 L1181.7,508.0 L1181.9,511.9 L1182.1,506.6 L1182.3,506.6 L1182.5,507.1 L1182.8,510.0 L1183.0,511.9 L1183.2,517.3 L1183.4,518.2 L1183.6,517.3 L1183.8,517.3 L1184.0,514.4 L1184.2,501.2 L1184.4,502.2 L1184.6,503.2 L1184.8,500.3" stroke="#ffffff" stroke-width="3.4"/>
<path d="M84.8,778.3 C121.7,778.3 334.4,778.3 380.0,778.3 C425.6,778.3 431.6,778.3 450.0,778.2 C468.4,778.1 508.2,777.9 527.0,777.8 C545.8,777.7 587.1,777.4 600.0,777.2 C612.9,777.0 624.4,776.5 630.0,776.3 C635.6,776.1 641.4,776.0 645.2,775.9 C649.0,775.8 656.6,775.4 660.4,775.3 C664.2,775.2 671.8,775.0 675.6,774.8 C679.4,774.5 687.0,773.7 690.8,773.3 C694.6,772.9 702.2,772.4 706.0,771.8 C709.8,771.2 718.6,769.1 721.3,768.7 C724.0,768.3 725.0,769.3 727.3,768.7 C729.6,768.1 737.4,764.8 739.5,764.2 C741.6,763.6 742.6,765.1 744.1,764.2 C745.6,763.3 749.8,759.1 751.7,757.3 C753.6,755.5 757.4,751.7 759.3,749.7 C761.2,747.7 765.4,742.7 766.9,741.4 C768.4,740.1 770.3,740.0 771.4,739.1 C772.5,738.2 774.9,735.4 776.0,734.5 C777.1,733.6 779.1,733.9 780.6,732.2 C782.1,730.5 786.6,722.3 788.2,720.8 C789.8,719.3 792.2,722.0 793.5,720.1 C794.8,718.2 797.8,707.9 798.8,705.6 C799.8,703.3 801.1,702.4 801.9,701.8 C802.7,701.2 803.9,701.7 804.9,701.1 C805.9,700.5 808.5,697.5 809.5,697.3 C810.5,697.1 811.6,699.1 812.5,699.5 C813.4,699.9 815.3,699.1 816.3,700.3 C817.2,701.4 819.1,705.9 820.1,708.7 C821.1,711.5 823.4,720.6 823.9,722.4 C824.4,724.1 823.9,723.5 824.4,722.7 C824.9,721.9 826.6,716.8 827.5,715.8 C828.4,714.8 830.3,715.7 831.3,715.1 C832.3,714.5 834.7,711.8 835.8,711.3 C836.9,710.8 839.3,711.8 840.4,711.3 C841.5,710.8 843.8,707.8 844.9,707.5 C846.0,707.2 848.4,709.3 849.5,709.0 C850.6,708.7 853.0,706.4 854.1,705.2 C855.2,704.0 857.6,700.3 858.6,699.1 C859.6,697.9 860.9,696.8 861.7,695.3 C862.5,693.8 864.1,688.9 864.7,686.9 C865.3,684.9 865.6,680.6 866.2,679.3 C866.8,678.0 868.4,677.8 869.3,676.3 C870.2,674.8 872.1,668.6 873.1,667.1 C874.1,665.6 876.1,666.0 876.9,664.1 C877.7,662.2 878.5,654.9 879.2,651.9 C879.9,648.9 881.2,642.4 882.2,639.8 C883.2,637.2 886.4,631.8 887.5,631.4 C888.6,631.0 890.3,635.8 891.3,636.7 C892.2,637.6 894.0,638.6 895.1,638.3 C896.2,638.0 899.5,635.9 900.5,634.4 C901.5,632.9 902.9,628.8 903.5,626.1 C904.1,623.4 904.9,614.8 905.6,612.5 C906.3,610.2 908.5,608.3 909.4,608.0 C910.3,607.7 911.8,611.2 912.5,610.3 C913.2,609.4 914.2,602.3 914.8,601.1 C915.4,599.9 916.5,599.0 917.0,600.4 C917.5,601.8 918.2,609.8 918.6,612.5 C919.0,615.2 919.5,619.8 919.8,621.7 C920.1,623.6 920.5,628.0 920.7,627.8 C920.9,627.6 921.5,622.5 921.7,620.2 C921.9,617.9 921.9,611.5 922.4,609.5 C922.9,607.5 924.6,605.3 925.4,604.2 C926.1,603.1 927.7,600.1 928.4,600.4 C929.1,600.7 930.2,604.0 930.7,606.5 C931.2,609.0 932.1,617.2 932.5,620.2 C932.9,623.2 933.3,630.6 933.5,630.8 C933.7,631.0 934.2,624.2 934.4,621.7 C934.6,619.2 934.8,612.7 935.3,611.0 C935.8,609.3 937.6,609.7 938.3,608.0 C939.0,606.3 940.0,599.3 940.6,597.3 C941.2,595.3 942.4,592.3 942.9,592.0 C943.4,591.7 943.8,595.4 944.4,595.1 C945.0,594.8 946.6,590.5 947.5,589.7 C948.4,588.9 950.4,589.9 951.3,589.0 C952.1,588.1 953.6,585.5 954.3,582.9 C955.0,580.3 955.8,570.8 956.6,568.4 C957.4,566.0 959.6,564.3 960.4,563.9 C961.2,563.5 962.2,563.3 962.7,565.4 C963.2,567.5 963.8,576.6 964.2,580.6 C964.6,584.6 965.5,596.3 966.0,597.3 C966.5,598.2 967.6,590.9 968.0,588.2 C968.4,585.5 968.9,577.8 969.5,576.0 C970.1,574.2 971.6,574.1 972.5,573.8 C973.4,573.5 975.6,575.4 976.3,573.8 C977.0,572.2 977.4,563.8 977.9,560.8 C978.4,557.8 979.5,551.4 980.2,550.2 C980.9,549.0 982.5,552.2 983.2,551.0 C984.0,549.8 985.4,541.1 986.2,540.3 C987.0,539.5 988.4,545.1 989.3,544.9 C990.2,544.7 992.3,540.8 993.1,538.8 C993.9,536.8 994.8,530.5 995.4,528.9 C996.0,527.3 997.1,525.1 997.6,525.9 C998.1,526.7 998.8,532.1 999.2,535.0 C999.6,537.9 1000.3,547.8 1000.7,548.7 C1001.1,549.7 1001.9,545.8 1002.2,542.6 C1002.5,539.4 1003.1,526.3 1003.4,522.8 C1003.7,519.3 1004.2,514.9 1004.5,514.9 C1004.8,514.9 1005.3,519.3 1005.6,522.8 C1005.9,526.3 1006.3,538.8 1006.8,542.6 C1007.3,546.4 1009.2,549.4 1009.8,553.2 C1010.4,557.0 1010.9,568.2 1011.3,573.0 C1011.7,577.8 1012.5,586.0 1012.9,591.3 C1013.3,596.6 1014.1,610.3 1014.4,615.6 C1014.7,620.9 1015.4,631.2 1015.6,633.8 C1015.8,636.4 1016.0,636.7 1016.3,636.1 C1016.6,635.5 1017.6,632.2 1018.2,629.3 C1018.8,626.3 1020.4,616.5 1021.2,612.5 C1022.0,608.5 1023.5,601.1 1024.3,597.3 C1025.1,593.5 1026.5,585.3 1027.3,582.1 C1028.0,578.9 1029.3,574.4 1030.3,571.5 C1031.2,568.6 1034.0,561.4 1034.9,559.3 C1035.8,557.2 1036.6,556.9 1037.2,554.8 C1037.8,552.7 1038.9,545.5 1039.5,542.6 C1040.1,539.7 1041.0,533.1 1041.7,531.9 C1042.4,530.7 1044.2,533.3 1044.8,532.7 C1045.4,532.1 1045.9,529.6 1046.3,527.4 C1046.7,525.2 1047.1,517.0 1047.8,515.2 C1048.5,513.4 1050.7,513.9 1051.6,512.9 C1052.5,511.9 1054.1,510.7 1054.7,507.6 C1055.3,504.5 1056.1,491.4 1056.7,488.2 C1057.3,485.0 1058.5,484.4 1059.2,482.0 C1059.9,479.6 1061.9,469.7 1062.5,469.4 C1063.1,469.1 1063.5,479.8 1064.2,479.5 C1064.9,479.2 1067.1,468.2 1068.0,466.9 C1068.9,465.6 1070.8,469.9 1071.7,469.4 C1072.6,468.9 1074.7,467.0 1075.5,463.1 C1076.3,459.2 1077.4,440.9 1078.0,438.1 C1078.6,435.3 1079.5,438.7 1080.0,440.6 C1080.5,442.5 1081.3,452.3 1081.8,453.1 C1082.3,453.9 1083.7,446.3 1084.3,446.8 C1084.9,447.3 1086.2,455.5 1086.8,456.9 C1087.4,458.3 1088.5,455.6 1089.3,458.1 C1090.1,460.6 1092.5,475.9 1093.6,477.0 C1094.7,478.1 1097.2,469.7 1098.1,466.9 C1099.0,464.1 1100.0,458.5 1100.6,454.4 C1101.2,450.3 1102.5,437.6 1103.1,434.3 C1103.7,431.0 1105.0,430.0 1105.6,428.0 C1106.2,426.0 1107.5,423.8 1108.1,418.0 C1108.7,412.2 1110.0,386.6 1110.6,381.6 C1111.2,376.6 1112.3,378.9 1113.1,377.8 C1113.9,376.7 1116.2,371.9 1116.9,372.8 C1117.6,373.8 1118.3,382.1 1118.7,385.4 C1119.1,388.7 1119.7,398.6 1120.2,399.2 C1120.7,399.8 1122.2,389.6 1122.7,390.4 C1123.2,391.2 1124.0,402.7 1124.4,405.4 C1124.8,408.1 1125.5,413.6 1125.9,411.7 C1126.3,409.8 1127.2,395.6 1127.7,390.4 C1128.2,385.2 1128.8,375.0 1129.5,370.3 C1130.2,365.6 1132.5,356.0 1133.2,352.7 C1133.9,349.4 1134.7,348.1 1135.2,344.0 C1135.7,339.9 1136.5,324.8 1137.0,320.1 C1137.5,315.4 1139.0,309.6 1139.5,306.3 C1140.0,303.0 1140.9,297.9 1141.3,293.8 C1141.7,289.7 1142.4,277.7 1142.8,273.2 C1143.2,268.7 1143.8,261.1 1144.5,258.1 C1145.2,255.1 1147.9,249.5 1148.8,249.3 C1149.7,249.2 1151.1,259.9 1152.0,256.9 C1152.9,253.9 1154.7,232.6 1155.8,225.5 C1156.9,218.4 1159.8,200.6 1160.8,200.4 C1161.8,200.2 1163.3,225.1 1164.1,224.3 C1164.9,223.5 1166.4,196.2 1167.1,194.1 C1167.8,192.0 1169.0,207.1 1169.6,207.9 C1170.2,208.7 1171.5,204.5 1172.1,200.4 C1172.7,196.3 1174.0,176.6 1174.6,175.3 C1175.2,174.1 1176.3,193.5 1177.1,190.4 C1177.9,187.3 1180.1,156.2 1180.9,150.2 C1181.7,144.2 1182.9,146.1 1183.4,142.7 C1183.9,139.2 1184.7,125.5 1184.9,122.6 C1185.1,119.7 1185.2,119.8 1185.3,119.4" stroke="#2aa24c" stroke-width="3.4"/>
</g>
<line x1="0" x2="1315" y1="778.5" y2="778.5" stroke="#d2d6dd" stroke-width="1" shape-rendering="crispEdges"/>
<line x1="84.8" x2="690" y1="778.5" y2="778.5" stroke="#2aa24c" stroke-opacity="0.28" stroke-width="1" shape-rendering="crispEdges"/>
<line x1="78.50" x2="78.50" y1="778.5" y2="783.0" stroke="#d2d6dd" stroke-width="1" shape-rendering="crispEdges"/>
<line x1="97.50" x2="97.50" y1="778.5" y2="780.2" stroke="#d2d6dd" stroke-width="1" shape-rendering="crispEdges"/>
<line x1="115.50" x2="115.50" y1="778.5" y2="780.2" stroke="#d2d6dd" stroke-width="1" shape-rendering="crispEdges"/>
<line x1="134.50" x2="134.50" y1="778.5" y2="780.2" stroke="#d2d6dd" stroke-width="1" shape-rendering="crispEdges"/>
<line x1="153.50" x2="153.50" y1="778.5" y2="783.0" stroke="#d2d6dd" stroke-width="1" shape-rendering="crispEdges"/>
<line x1="171.50" x2="171.50" y1="778.5" y2="780.2" stroke="#d2d6dd" stroke-width="1" shape-rendering="crispEdges"/>
<line x1="190.50" x2="190.50" y1="778.5" y2="780.2" stroke="#d2d6dd" stroke-width="1" shape-rendering="crispEdges"/>
<line x1="209.50" x2="209.50" y1="778.5" y2="780.2" stroke="#d2d6dd" stroke-width="1" shape-rendering="crispEdges"/>
<line x1="227.50" x2="227.50" y1="778.5" y2="783.0" stroke="#d2d6dd" stroke-width="1" shape-rendering="crispEdges"/>
<line x1="246.50" x2="246.50" y1="778.5" y2="780.2" stroke="#d2d6dd" stroke-width="1" shape-rendering="crispEdges"/>
<line x1="265.50" x2="265.50" y1="778.5" y2="780.2" stroke="#d2d6dd" stroke-width="1" shape-rendering="crispEdges"/>
<line x1="284.50" x2="284.50" y1="778.5" y2="780.2" stroke="#d2d6dd" stroke-width="1" shape-rendering="crispEdges"/>
<line x1="302.50" x2="302.50" y1="778.5" y2="783.0" stroke="#d2d6dd" stroke-width="1" shape-rendering="crispEdges"/>
<line x1="321.50" x2="321.50" y1="778.5" y2="780.2" stroke="#d2d6dd" stroke-width="1" shape-rendering="crispEdges"/>
<line x1="340.50" x2="340.50" y1="778.5" y2="780.2" stroke="#d2d6dd" stroke-width="1" shape-rendering="crispEdges"/>
<line x1="358.50" x2="358.50" y1="778.5" y2="780.2" stroke="#d2d6dd" stroke-width="1" shape-rendering="crispEdges"/>
<line x1="377.50" x2="377.50" y1="778.5" y2="783.0" stroke="#d2d6dd" stroke-width="1" shape-rendering="crispEdges"/>
<line x1="396.50" x2="396.50" y1="778.5" y2="780.2" stroke="#d2d6dd" stroke-width="1" shape-rendering="crispEdges"/>
<line x1="414.50" x2="414.50" y1="778.5" y2="780.2" stroke="#d2d6dd" stroke-width="1" shape-rendering="crispEdges"/>
<line x1="433.50" x2="433.50" y1="778.5" y2="780.2" stroke="#d2d6dd" stroke-width="1" shape-rendering="crispEdges"/>
<line x1="452.50" x2="452.50" y1="778.5" y2="783.0" stroke="#d2d6dd" stroke-width="1" shape-rendering="crispEdges"/>
<line x1="470.50" x2="470.50" y1="778.5" y2="780.2" stroke="#d2d6dd" stroke-width="1" shape-rendering="crispEdges"/>
<line x1="489.50" x2="489.50" y1="778.5" y2="780.2" stroke="#d2d6dd" stroke-width="1" shape-rendering="crispEdges"/>
<line x1="508.50" x2="508.50" y1="778.5" y2="780.2" stroke="#d2d6dd" stroke-width="1" shape-rendering="crispEdges"/>
<line x1="526.50" x2="526.50" y1="778.5" y2="783.0" stroke="#d2d6dd" stroke-width="1" shape-rendering="crispEdges"/>
<line x1="545.50" x2="545.50" y1="778.5" y2="780.2" stroke="#d2d6dd" stroke-width="1" shape-rendering="crispEdges"/>
<line x1="564.50" x2="564.50" y1="778.5" y2="780.2" stroke="#d2d6dd" stroke-width="1" shape-rendering="crispEdges"/>
<line x1="582.50" x2="582.50" y1="778.5" y2="780.2" stroke="#d2d6dd" stroke-width="1" shape-rendering="crispEdges"/>
<line x1="601.50" x2="601.50" y1="778.5" y2="783.0" stroke="#d2d6dd" stroke-width="1" shape-rendering="crispEdges"/>
<line x1="620.50" x2="620.50" y1="778.5" y2="780.2" stroke="#d2d6dd" stroke-width="1" shape-rendering="crispEdges"/>
<line x1="638.50" x2="638.50" y1="778.5" y2="780.2" stroke="#d2d6dd" stroke-width="1" shape-rendering="crispEdges"/>
<line x1="657.50" x2="657.50" y1="778.5" y2="780.2" stroke="#d2d6dd" stroke-width="1" shape-rendering="crispEdges"/>
<line x1="676.50" x2="676.50" y1="778.5" y2="783.0" stroke="#d2d6dd" stroke-width="1" shape-rendering="crispEdges"/>
<line x1="695.50" x2="695.50" y1="778.5" y2="780.2" stroke="#d2d6dd" stroke-width="1" shape-rendering="crispEdges"/>
<line x1="713.50" x2="713.50" y1="778.5" y2="780.2" stroke="#d2d6dd" stroke-width="1" shape-rendering="crispEdges"/>
<line x1="732.50" x2="732.50" y1="778.5" y2="780.2" stroke="#d2d6dd" stroke-width="1" shape-rendering="crispEdges"/>
<line x1="751.50" x2="751.50" y1="778.5" y2="783.0" stroke="#d2d6dd" stroke-width="1" shape-rendering="crispEdges"/>
<line x1="769.50" x2="769.50" y1="778.5" y2="780.2" stroke="#d2d6dd" stroke-width="1" shape-rendering="crispEdges"/>
<line x1="788.50" x2="788.50" y1="778.5" y2="780.2" stroke="#d2d6dd" stroke-width="1" shape-rendering="crispEdges"/>
<line x1="807.50" x2="807.50" y1="778.5" y2="780.2" stroke="#d2d6dd" stroke-width="1" shape-rendering="crispEdges"/>
<line x1="825.50" x2="825.50" y1="778.5" y2="783.0" stroke="#d2d6dd" stroke-width="1" shape-rendering="crispEdges"/>
<line x1="844.50" x2="844.50" y1="778.5" y2="780.2" stroke="#d2d6dd" stroke-width="1" shape-rendering="crispEdges"/>
<line x1="863.50" x2="863.50" y1="778.5" y2="780.2" stroke="#d2d6dd" stroke-width="1" shape-rendering="crispEdges"/>
<line x1="881.50" x2="881.50" y1="778.5" y2="780.2" stroke="#d2d6dd" stroke-width="1" shape-rendering="crispEdges"/>
<line x1="900.50" x2="900.50" y1="778.5" y2="783.0" stroke="#d2d6dd" stroke-width="1" shape-rendering="crispEdges"/>
<line x1="919.50" x2="919.50" y1="778.5" y2="780.2" stroke="#d2d6dd" stroke-width="1" shape-rendering="crispEdges"/>
<line x1="937.50" x2="937.50" y1="778.5" y2="780.2" stroke="#d2d6dd" stroke-width="1" shape-rendering="crispEdges"/>
<line x1="956.50" x2="956.50" y1="778.5" y2="780.2" stroke="#d2d6dd" stroke-width="1" shape-rendering="crispEdges"/>
<line x1="975.50" x2="975.50" y1="778.5" y2="783.0" stroke="#d2d6dd" stroke-width="1" shape-rendering="crispEdges"/>
<line x1="993.50" x2="993.50" y1="778.5" y2="780.2" stroke="#d2d6dd" stroke-width="1" shape-rendering="crispEdges"/>
<line x1="1012.50" x2="1012.50" y1="778.5" y2="780.2" stroke="#d2d6dd" stroke-width="1" shape-rendering="crispEdges"/>
<line x1="1031.50" x2="1031.50" y1="778.5" y2="780.2" stroke="#d2d6dd" stroke-width="1" shape-rendering="crispEdges"/>
<line x1="1049.50" x2="1049.50" y1="778.5" y2="783.0" stroke="#d2d6dd" stroke-width="1" shape-rendering="crispEdges"/>
<line x1="1068.50" x2="1068.50" y1="778.5" y2="780.2" stroke="#d2d6dd" stroke-width="1" shape-rendering="crispEdges"/>
<line x1="1087.50" x2="1087.50" y1="778.5" y2="780.2" stroke="#d2d6dd" stroke-width="1" shape-rendering="crispEdges"/>
<line x1="1106.50" x2="1106.50" y1="778.5" y2="780.2" stroke="#d2d6dd" stroke-width="1" shape-rendering="crispEdges"/>
<line x1="1124.50" x2="1124.50" y1="778.5" y2="783.0" stroke="#d2d6dd" stroke-width="1" shape-rendering="crispEdges"/>
<line x1="1143.50" x2="1143.50" y1="778.5" y2="780.2" stroke="#d2d6dd" stroke-width="1" shape-rendering="crispEdges"/>
<line x1="1162.50" x2="1162.50" y1="778.5" y2="780.2" stroke="#d2d6dd" stroke-width="1" shape-rendering="crispEdges"/>
<line x1="1180.50" x2="1180.50" y1="778.5" y2="780.2" stroke="#d2d6dd" stroke-width="1" shape-rendering="crispEdges"/>
<line x1="1199.50" x2="1199.50" y1="778.5" y2="783.0" stroke="#d2d6dd" stroke-width="1" shape-rendering="crispEdges"/>
<line x1="1218.50" x2="1218.50" y1="778.5" y2="780.2" stroke="#d2d6dd" stroke-width="1" shape-rendering="crispEdges"/>
<line x1="1236.50" x2="1236.50" y1="778.5" y2="780.2" stroke="#d2d6dd" stroke-width="1" shape-rendering="crispEdges"/>
<text x="92.2" y="800.1" font-size="15.4" fill="#f4f5f6" font-weight="bold" text-anchor="middle" textLength="34.4" lengthAdjust="spacingAndGlyphs">2009</text>
<text x="153.2" y="800.1" font-size="15.4" fill="#f4f5f6" font-weight="bold" text-anchor="middle" textLength="34.4" lengthAdjust="spacingAndGlyphs">2010</text>
<text x="228.0" y="800.1" font-size="15.4" fill="#f4f5f6" font-weight="bold" text-anchor="middle" textLength="34.4" lengthAdjust="spacingAndGlyphs">2011</text>
<text x="302.7" y="800.1" font-size="15.4" fill="#f4f5f6" font-weight="bold" text-anchor="middle" textLength="34.4" lengthAdjust="spacingAndGlyphs">2012</text>
<text x="377.4" y="800.1" font-size="15.4" fill="#f4f5f6" font-weight="bold" text-anchor="middle" textLength="34.4" lengthAdjust="spacingAndGlyphs">2013</text>
<text x="452.2" y="800.1" font-size="15.4" fill="#f4f5f6" font-weight="bold" text-anchor="middle" textLength="34.4" lengthAdjust="spacingAndGlyphs">2014</text>
<text x="526.9" y="800.1" font-size="15.4" fill="#f4f5f6" font-weight="bold" text-anchor="middle" textLength="34.4" lengthAdjust="spacingAndGlyphs">2015</text>
<text x="601.6" y="800.1" font-size="15.4" fill="#f4f5f6" font-weight="bold" text-anchor="middle" textLength="34.4" lengthAdjust="spacingAndGlyphs">2016</text>
<text x="676.3" y="800.1" font-size="15.4" fill="#f4f5f6" font-weight="bold" text-anchor="middle" textLength="34.4" lengthAdjust="spacingAndGlyphs">2017</text>
<text x="751.1" y="800.1" font-size="15.4" fill="#f4f5f6" font-weight="bold" text-anchor="middle" textLength="34.4" lengthAdjust="spacingAndGlyphs">2018</text>
<text x="825.8" y="800.1" font-size="15.4" fill="#f4f5f6" font-weight="bold" text-anchor="middle" textLength="34.4" lengthAdjust="spacingAndGlyphs">2019</text>
<text x="900.5" y="800.1" font-size="15.4" fill="#f4f5f6" font-weight="bold" text-anchor="middle" textLength="34.4" lengthAdjust="spacingAndGlyphs">2020</text>
<text x="975.3" y="800.1" font-size="15.4" fill="#f4f5f6" font-weight="bold" text-anchor="middle" textLength="34.4" lengthAdjust="spacingAndGlyphs">2021</text>
<text x="1050.0" y="800.1" font-size="15.4" fill="#f4f5f6" font-weight="bold" text-anchor="middle" textLength="34.4" lengthAdjust="spacingAndGlyphs">2022</text>
<text x="1124.7" y="800.1" font-size="15.4" fill="#f4f5f6" font-weight="bold" text-anchor="middle" textLength="34.4" lengthAdjust="spacingAndGlyphs">2023</text>
<text x="1199.5" y="800.1" font-size="15.4" fill="#f4f5f6" font-weight="bold" text-anchor="middle" textLength="34.4" lengthAdjust="spacingAndGlyphs">2024</text>
<text x="64.9" y="775.0" font-size="15.4" fill="#f4f5f6" font-weight="bold" text-anchor="end" textLength="16.3" lengthAdjust="spacingAndGlyphs">$0</text>
<text x="64.9" y="686.6" font-size="15.4" fill="#f4f5f6" font-weight="bold" text-anchor="end" textLength="54.8" lengthAdjust="spacingAndGlyphs">$10,000</text>
<text x="64.9" y="589.3" font-size="15.4" fill="#f4f5f6" font-weight="bold" text-anchor="end" textLength="54.8" lengthAdjust="spacingAndGlyphs">$20,000</text>
<text x="64.9" y="492.0" font-size="15.4" fill="#f4f5f6" font-weight="bold" text-anchor="end" textLength="54.8" lengthAdjust="spacingAndGlyphs">$30,000</text>
<text x="64.9" y="394.7" font-size="15.4" fill="#f4f5f6" font-weight="bold" text-anchor="end" textLength="54.8" lengthAdjust="spacingAndGlyphs">$40,000</text>
<text x="64.9" y="297.4" font-size="15.4" fill="#f4f5f6" font-weight="bold" text-anchor="end" textLength="54.8" lengthAdjust="spacingAndGlyphs">$50,000</text>
<text x="64.9" y="200.2" font-size="15.4" fill="#f4f5f6" font-weight="bold" text-anchor="end" textLength="54.8" lengthAdjust="spacingAndGlyphs">$60,000</text>
<text x="64.9" y="102.9" font-size="15.4" fill="#f4f5f6" font-weight="bold" text-anchor="end" textLength="54.8" lengthAdjust="spacingAndGlyphs">$70,000</text>
<text x="1249.1" y="775.0" font-size="15.4" fill="#f4f5f6" font-weight="bold" textLength="43.4" lengthAdjust="spacingAndGlyphs">0 EH/s</text>
<line x1="1241.5" x2="1246.0" y1="717.50" y2="717.50" stroke="#d2d6dd" stroke-width="1" shape-rendering="crispEdges"/>
<text x="1249.1" y="722.9" font-size="15.4" fill="#f4f5f6" font-weight="bold" textLength="51.9" lengthAdjust="spacingAndGlyphs">40 EH/s</text>
<line x1="1241.5" x2="1246.0" y1="656.50" y2="656.50" stroke="#d2d6dd" stroke-width="1" shape-rendering="crispEdges"/>
<text x="1249.1" y="661.9" font-size="15.4" fill="#f4f5f6" font-weight="bold" textLength="51.9" lengthAdjust="spacingAndGlyphs">80 EH/s</text>
<line x1="1241.5" x2="1246.0" y1="595.50" y2="595.50" stroke="#d2d6dd" stroke-width="1" shape-rendering="crispEdges"/>
<text x="1249.1" y="600.9" font-size="15.4" fill="#f4f5f6" font-weight="bold" textLength="60.3" lengthAdjust="spacingAndGlyphs">120 EH/s</text>
<line x1="1241.5" x2="1246.0" y1="533.50" y2="533.50" stroke="#d2d6dd" stroke-width="1" shape-rendering="crispEdges"/>
<text x="1249.1" y="538.9" font-size="15.4" fill="#f4f5f6" font-weight="bold" textLength="60.3" lengthAdjust="spacingAndGlyphs">160 EH/s</text>
<line x1="1241.5" x2="1246.0" y1="472.50" y2="472.50" stroke="#d2d6dd" stroke-width="1" shape-rendering="crispEdges"/>
<text x="1249.1" y="477.9" font-size="15.4" fill="#f4f5f6" font-weight="bold" textLength="60.3" lengthAdjust="spacingAndGlyphs">200 EH/s</text>
<line x1="1241.5" x2="1246.0" y1="411.50" y2="411.50" stroke="#d2d6dd" stroke-width="1" shape-rendering="crispEdges"/>
<text x="1249.1" y="416.9" font-size="15.4" fill="#f4f5f6" font-weight="bold" textLength="60.3" lengthAdjust="spacingAndGlyphs">240 EH/s</text>
<line x1="1241.5" x2="1246.0" y1="350.50" y2="350.50" stroke="#d2d6dd" stroke-width="1" shape-rendering="crispEdges"/>
<text x="1249.1" y="355.9" font-size="15.4" fill="#f4f5f6" font-weight="bold" textLength="60.3" lengthAdjust="spacingAndGlyphs">280 EH/s</text>
<line x1="1241.5" x2="1246.0" y1="289.50" y2="289.50" stroke="#d2d6dd" stroke-width="1" shape-rendering="crispEdges"/>
<text x="1249.1" y="294.9" font-size="15.4" fill="#f4f5f6" font-weight="bold" textLength="60.3" lengthAdjust="spacingAndGlyphs">320 EH/s</text>
<line x1="1241.5" x2="1246.0" y1="228.50" y2="228.50" stroke="#d2d6dd" stroke-width="1" shape-rendering="crispEdges"/>
<text x="1249.1" y="233.9" font-size="15.4" fill="#f4f5f6" font-weight="bold" textLength="60.3" lengthAdjust="spacingAndGlyphs">360 EH/s</text>
<line x1="1241.5" x2="1246.0" y1="167.50" y2="167.50" stroke="#d2d6dd" stroke-width="1" shape-rendering="crispEdges"/>
<text x="1249.1" y="172.9" font-size="15.4" fill="#f4f5f6" font-weight="bold" textLength="60.3" lengthAdjust="spacingAndGlyphs">400 EH/s</text>
<line x1="1241.5" x2="1246.0" y1="106.50" y2="106.50" stroke="#d2d6dd" stroke-width="1" shape-rendering="crispEdges"/>
<text x="1249.1" y="111.9" font-size="15.4" fill="#f4f5f6" font-weight="bold" textLength="60.3" lengthAdjust="spacingAndGlyphs">440 EH/s</text>
<text x="685.7" y="35.4" font-size="30.3" fill="#f4f5f6" stroke="#f4f5f6" stroke-width="1.25" stroke-linejoin="round" textLength="61.0" lengthAdjust="spacingAndGlyphs">BTC:</text>
<text x="757.2" y="35.4" font-size="30.3" fill="#f4f5f6" stroke="#f4f5f6" stroke-width="1.25" stroke-linejoin="round" textLength="72.8" lengthAdjust="spacingAndGlyphs">Price,</text>
<text x="838.2" y="35.4" font-size="30.3" fill="#2aa24c" stroke="#2aa24c" stroke-width="1.25" stroke-linejoin="round" textLength="119.8" lengthAdjust="spacingAndGlyphs">Hashrate</text>
<text x="968.0" y="35.4" font-size="30.3" fill="#2aa24c" stroke="#2aa24c" stroke-width="1.25" stroke-linejoin="round" textLength="104.2" lengthAdjust="spacingAndGlyphs">(14-Day</text>
<text x="1085.8" y="35.4" font-size="30.3" fill="#2aa24c" stroke="#2aa24c" stroke-width="1.25" stroke-linejoin="round" textLength="95.1" lengthAdjust="spacingAndGlyphs">Moving</text>
<text x="1190.3" y="35.4" font-size="30.3" fill="#2aa24c" stroke="#2aa24c" stroke-width="1.25" stroke-linejoin="round" textLength="117.9" lengthAdjust="spacingAndGlyphs">Average)</text>
<text x="1156" y="70.9" font-size="17.5" font-style="italic" fill="#f4f5f6" textLength="146.6" lengthAdjust="spacingAndGlyphs">Source: Glassnode</text>
<path fill-rule="evenodd" fill="url(#gTop)" d="M36.02,10.86 L61.46,25.77 L36.02,39.22 L10.86,25.77Z M36.02,17.27 L51.12,25.77 L36.02,33.73 L20.93,25.77Z"/>
<path fill-rule="evenodd" fill="url(#gL)" d="M9.49,27.51 L35.11,41.24 L35.11,70.97 L9.49,57.25Z M14.61,36.20 L29.98,44.44 L29.98,50.39 L14.61,42.15Z M14.61,48.10 L29.98,56.33 L29.98,62.28 L14.61,54.05Z"/>
<path fill="url(#gR)" d="M37.12,41.24 L62.74,27.51 L62.74,33.46 L42.76,44.16 L42.76,50.11 L62.74,39.41 L62.74,57.25 L37.12,70.97 L37.12,65.02 L57.10,54.32 L57.10,48.37 L37.12,59.08Z"/>
<g font-weight="bold" fill="#f4f5f6" stroke="#f4f5f6" stroke-width="1.15" stroke-linejoin="round">
<text x="68.9" y="39.5" font-size="17.3" textLength="83.4" lengthAdjust="spacingAndGlyphs">BLOCKWARE</text>
<text x="68.9" y="55.9" font-size="17.3" textLength="76" lengthAdjust="spacingAndGlyphs">SOLUTIONS</text>
</g>
</svg>
</body></html>
